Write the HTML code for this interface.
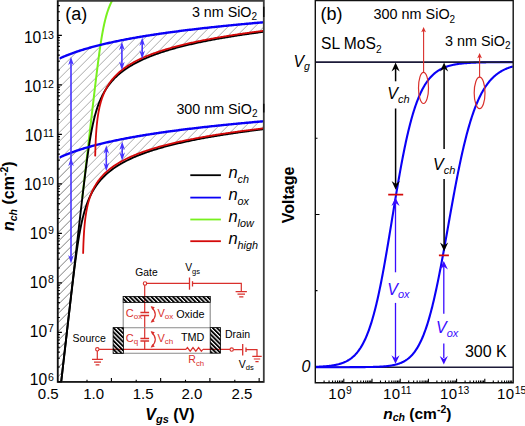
<!DOCTYPE html>
<html><head><meta charset="utf-8"><style>html,body{margin:0;padding:0;background:#fff;}svg{display:block;}</style></head>
<body><svg width="525" height="426" viewBox="0 0 525 426">
<rect width="525" height="426" fill="#fff"/>
<defs>
<pattern id="hat" patternUnits="userSpaceOnUse" width="9" height="9" patternTransform="translate(2.7,0)"><path d="M-1,1 L1,-1 M0,9 L9,0 M8,10 L10,8" stroke="#999" stroke-width="0.85"/></pattern>
<pattern id="el" patternUnits="userSpaceOnUse" width="3.05" height="3.05" patternTransform="rotate(-45)"><rect x="0" y="0" width="1.85" height="3.05" fill="#000"/></pattern>
<clipPath id="ca"><rect x="57.7" y="0.8" width="206.10000000000002" height="381.09999999999997"/></clipPath>
<clipPath id="cb"><rect x="315.3" y="0.8" width="197.9" height="382"/></clipPath>
</defs>
<g clip-path="url(#ca)">
<path d="M57.7,59.33 L58.7,58.85 L59.7,58.39 L60.7,57.93 L61.7,57.48 L62.7,57.05 L63.7,56.62 L64.7,56.2 L65.7,55.79 L66.7,55.39 L67.7,54.99 L68.7,54.6 L69.7,54.22 L70.7,53.84 L71.7,53.47 L72.7,53.11 L73.7,52.75 L74.7,52.4 L75.7,52.06 L76.7,51.72 L77.7,51.38 L78.7,51.05 L79.7,50.73 L80.7,50.41 L81.7,50.09 L82.7,49.78 L83.7,49.48 L84.7,49.18 L85.7,48.88 L86.7,48.59 L87.7,48.3 L88.7,48.01 L89.7,47.73 L90.7,47.45 L91.7,47.17 L92.7,46.9 L93.7,46.64 L94.7,46.37 L95.7,46.11 L96.7,45.85 L97.7,45.6 L98.7,45.34 L99.7,45.09 L100.7,44.85 L101.7,44.6 L102.7,44.36 L103.7,44.13 L104.7,43.89 L105.7,43.66 L106.7,43.43 L107.7,43.2 L108.7,42.97 L109.7,42.75 L110.7,42.53 L111.7,42.31 L112.7,42.09 L113.7,41.88 L114.7,41.67 L115.7,41.46 L116.7,41.25 L117.7,41.04 L118.7,40.84 L119.7,40.64 L120.7,40.43 L121.7,40.24 L122.7,40.04 L123.7,39.84 L124.7,39.65 L125.7,39.46 L126.7,39.27 L127.7,39.08 L128.7,38.89 L129.7,38.71 L130.7,38.53 L131.7,38.34 L132.7,38.16 L133.7,37.99 L134.7,37.81 L135.7,37.63 L136.7,37.46 L137.7,37.29 L138.7,37.11 L139.7,36.94 L140.7,36.77 L141.7,36.61 L142.7,36.44 L143.7,36.28 L144.7,36.11 L145.7,35.95 L146.7,35.79 L147.7,35.63 L148.7,35.47 L149.7,35.31 L150.7,35.15 L151.7,35 L152.7,34.84 L153.7,34.69 L154.7,34.54 L155.7,34.39 L156.7,34.24 L157.7,34.09 L158.7,33.94 L159.7,33.79 L160.7,33.65 L161.7,33.5 L162.7,33.36 L163.7,33.22 L164.7,33.07 L165.7,32.93 L166.7,32.79 L167.7,32.65 L168.7,32.51 L169.7,32.38 L170.7,32.24 L171.7,32.1 L172.7,31.97 L173.7,31.83 L174.7,31.7 L175.7,31.57 L176.7,31.44 L177.7,31.31 L178.7,31.18 L179.7,31.05 L180.7,30.92 L181.7,30.79 L182.7,30.66 L183.7,30.54 L184.7,30.41 L185.7,30.29 L186.7,30.16 L187.7,30.04 L188.7,29.92 L189.7,29.79 L190.7,29.67 L191.7,29.55 L192.7,29.43 L193.7,29.31 L194.7,29.2 L195.7,29.08 L196.7,28.96 L197.7,28.84 L198.7,28.73 L199.7,28.61 L200.7,28.5 L201.7,28.38 L202.7,28.27 L203.7,28.16 L204.7,28.04 L205.7,27.93 L206.7,27.82 L207.7,27.71 L208.7,27.6 L209.7,27.49 L210.7,27.38 L211.7,27.27 L212.7,27.17 L213.7,27.06 L214.7,26.95 L215.7,26.84 L216.7,26.74 L217.7,26.63 L218.7,26.53 L219.7,26.42 L220.7,26.32 L221.7,26.22 L222.7,26.12 L223.7,26.01 L224.7,25.91 L225.7,25.81 L226.7,25.71 L227.7,25.61 L228.7,25.51 L229.7,25.41 L230.7,25.31 L231.7,25.21 L232.7,25.11 L233.7,25.02 L234.7,24.92 L235.7,24.82 L236.7,24.73 L237.7,24.63 L238.7,24.53 L239.7,24.44 L240.7,24.35 L241.7,24.25 L242.7,24.16 L243.7,24.06 L244.7,23.97 L245.7,23.88 L246.7,23.79 L247.7,23.69 L248.7,23.6 L249.7,23.51 L250.7,23.42 L251.7,23.33 L252.7,23.24 L253.7,23.15 L254.7,23.06 L255.7,22.97 L256.7,22.89 L257.7,22.8 L258.7,22.71 L259.7,22.62 L260.7,22.54 L261.7,22.45 L262.7,22.36 L263.7,22.28 L263,31.89 L262,32.02 L261,32.15 L260,32.28 L259,32.42 L258,32.55 L257,32.69 L256,32.82 L255,32.96 L254,33.1 L253,33.24 L252,33.37 L251,33.52 L250,33.66 L249,33.8 L248,33.94 L247,34.09 L246,34.23 L245,34.38 L244,34.53 L243,34.67 L242,34.82 L241,34.97 L240,35.12 L239,35.28 L238,35.43 L237,35.58 L236,35.74 L235,35.9 L234,36.05 L233,36.21 L232,36.37 L231,36.53 L230,36.7 L229,36.86 L228,37.03 L227,37.19 L226,37.36 L225,37.53 L224,37.7 L223,37.87 L222,38.04 L221,38.22 L220,38.39 L219,38.57 L218,38.75 L217,38.93 L216,39.11 L215,39.29 L214,39.47 L213,39.66 L212,39.85 L211,40.04 L210,40.23 L209,40.42 L208,40.61 L207,40.81 L206,41.01 L205,41.21 L204,41.41 L203,41.61 L202,41.82 L201,42.02 L200,42.23 L199,42.44 L198,42.66 L197,42.87 L196,43.09 L195,43.31 L194,43.53 L193,43.75 L192,43.98 L191,44.21 L190,44.44 L189,44.67 L188,44.91 L187,45.14 L186,45.38 L185,45.63 L184,45.87 L183,46.12 L182,46.38 L181,46.63 L180,46.89 L179,47.15 L178,47.41 L177,47.68 L176,47.95 L175,48.22 L174,48.5 L173,48.78 L172,49.06 L171,49.35 L170,49.64 L169,49.94 L168,50.24 L167,50.54 L166,50.85 L165,51.16 L164,51.48 L163,51.8 L162,52.12 L161,52.45 L160,52.79 L159,53.13 L158,53.48 L157,53.83 L156,54.18 L155,54.55 L154,54.91 L153,55.29 L152,55.67 L151,56.06 L150,56.45 L149,56.85 L148,57.26 L147,57.68 L146,58.1 L145,58.53 L144,58.97 L143,59.42 L142,59.88 L141,60.35 L140,60.83 L139,61.32 L138,61.81 L137,62.32 L136,62.84 L135,63.38 L134,63.92 L133,64.48 L132,65.06 L131,65.65 L129.95,66.28 L129.7,66.43 L129.45,66.59 L129.2,66.74 L128.95,66.9 L128.7,67.06 L128.45,67.22 L128.2,67.38 L127.95,67.54 L127.7,67.7 L127.45,67.86 L127.2,68.03 L126.95,68.19 L126.7,68.36 L126.45,68.53 L126.2,68.7 L125.95,68.87 L125.7,69.04 L125.45,69.21 L125.2,69.39 L124.95,69.56 L124.7,69.74 L124.45,69.92 L124.2,70.1 L123.95,70.28 L123.7,70.46 L123.45,70.65 L123.2,70.83 L122.95,71.02 L122.7,71.21 L122.45,71.4 L122.2,71.59 L121.95,71.78 L121.7,71.98 L121.45,72.17 L121.2,72.37 L120.95,72.57 L120.7,72.77 L120.45,72.97 L120.2,73.18 L119.95,73.38 L119.7,73.59 L119.45,73.8 L119.2,74.01 L118.95,74.23 L118.7,74.44 L118.45,74.66 L118.2,74.88 L117.95,75.1 L117.7,75.33 L117.45,75.55 L117.2,75.78 L116.95,76.01 L116.7,76.24 L116.45,76.48 L116.2,76.72 L115.95,76.96 L115.7,77.2 L115.45,77.44 L115.2,77.69 L114.95,77.94 L114.7,78.19 L114.45,78.44 L114.2,78.7 L113.95,78.96 L113.7,79.23 L113.45,79.49 L113.2,79.76 L112.95,80.03 L112.7,80.31 L112.45,80.58 L112.2,80.86 L111.95,81.15 L111.7,81.44 L111.45,81.73 L111.2,82.02 L110.95,82.32 L110.7,82.62 L110.45,82.93 L110.2,83.23 L109.95,83.55 L109.7,83.86 L109.45,84.18 L109.2,84.51 L108.95,84.84 L108.7,85.17 L108.45,85.51 L108.2,85.85 L107.95,86.2 L107.7,86.55 L107.45,86.91 L107.2,87.27 L106.95,87.63 L106.7,88.01 L106.45,88.38 L106.2,88.77 L105.95,89.16 L105.7,89.55 L105.45,89.95 L105.2,90.36 L104.95,90.77 L104.7,91.19 L104.45,91.62 L104.2,92.05 L103.95,92.49 L103.7,92.94 L103.45,93.39 L103.2,93.86 L102.95,94.33 L102.7,94.81 L102.45,95.29 L102.2,95.79 L101.95,96.3 L101.7,96.81 L101.45,97.34 L101.2,97.87 L100.95,98.41 L100.7,98.97 L100.45,99.53 L100.2,100.11 L99.95,100.7 L99.7,101.3 L99.45,101.91 L99.2,102.54 L98.95,103.18 L98.7,103.83 L98.45,104.5 L98.2,105.18 L97.95,105.87 L97.7,106.58 L97.45,107.31 L97.2,108.06 L96.95,108.82 L96.7,109.6 L96.45,110.4 L96.2,111.21 L95.95,112.05 L95.7,112.91 L95.45,113.79 L95.2,114.69 L94.95,115.61 L94.7,116.56 L94.45,117.53 L94.2,118.52 L93.95,119.55 L93.7,120.59 L93.45,121.67 L93.2,122.77 L92.95,123.9 L92.7,125.06 L92.45,126.24 L92.2,127.46 L91.95,128.71 L91.7,129.99 L91.45,131.31 L91.2,132.65 L90.95,134.03 L90.7,135.44 L90.45,136.88 L90.2,138.36 L89.95,139.86 L89.7,141.41 L89.45,142.98 L89.2,144.58 L88.95,146.22 L88.7,147.89 L88.45,149.59 L88.2,151.31 L87.95,153.07 L87.7,154.86 L87.45,156.67 L87.2,158.5 L86.95,160.36 L86.7,162.25 L86.45,164.15 L86.2,166.08 L85.95,168.03 L85.7,169.99 L85.45,171.97 L85.2,173.97 L84.95,175.99 L84.7,178.02 L84.45,180.06 L84.2,182.11 L83.95,184.18 L83.7,186.25 L83.45,188.34 L83.2,190.43 L82.95,192.54 L82.7,194.64 L82.45,196.76 L82.2,198.88 L81.95,201.01 L81.7,203.15 L81.45,205.28 L81.2,207.43 L80.95,209.57 L80.7,211.72 L80.45,213.88 L80.2,216.03 L79.95,218.19 L79.7,220.35 L79.45,222.52 L79.2,224.68 L78.95,226.85 L78.7,229.02 L78.45,231.19 L78.2,233.36 L77.95,235.54 L77.7,237.71 L77.45,239.88 L77.2,242.06 L76.95,244.24 L76.7,246.42 L76.45,248.59 L76.2,250.77 L75.95,252.95 L75.7,255.13 L75.45,257.31 L75.2,259.49 L74.95,261.68 L74.7,263.86 L74.45,266.04 L74.2,268.22 L73.95,270.4 L73.7,272.59 L73.45,274.77 L73.2,276.95 L72.95,279.14 L72.7,281.32 L72.45,283.5 L72.2,285.69 L71.95,287.87 L71.7,290.05 L71.45,292.24 L71.2,294.42 L70.95,296.6 L70.7,298.79 L70.45,300.97 L70.2,303.16 L69.95,305.34 L69.7,307.53 L69.45,309.71 L69.2,311.89 L68.95,314.08 L68.7,316.26 L68.45,318.45 L68.2,320.63 L67.95,322.82 L67.7,325 L67.45,327.19 L67.2,329.37 L66.95,331.56 L66.7,333.74 L66.45,335.92 L66.2,338.11 L65.95,340.29 L65.7,342.48 L65.45,344.66 L65.2,346.85 L64.95,349.03 L64.7,351.22 L64.45,353.4 L64.2,355.59 L63.95,357.77 L63.7,359.96 L63.45,362.14 L63.2,364.32 L62.95,366.51 L62.7,368.69 L62.45,370.88 L62.2,373.06 L61.95,375.25 L61.7,377.43 L61.45,379.62 L61.2,381.8 L60.95,383.99 L60.7,386.17 L60.45,388.36 L60.2,390.54 L59.95,392.73 L59.7,394.91 L55.7,395 Z" fill="url(#hat)"/>
<path d="M57.7,158.33 L58.7,157.85 L59.7,157.39 L60.7,156.93 L61.7,156.48 L62.7,156.05 L63.7,155.62 L64.7,155.2 L65.7,154.79 L66.7,154.39 L67.7,153.99 L68.7,153.6 L69.7,153.22 L70.7,152.84 L71.7,152.47 L72.7,152.11 L73.7,151.75 L74.7,151.4 L75.7,151.06 L76.7,150.72 L77.7,150.38 L78.7,150.05 L79.7,149.73 L80.7,149.41 L81.7,149.09 L82.7,148.78 L83.7,148.48 L84.7,148.18 L85.7,147.88 L86.7,147.59 L87.7,147.3 L88.7,147.01 L89.7,146.73 L90.7,146.45 L91.7,146.17 L92.7,145.9 L93.7,145.64 L94.7,145.37 L95.7,145.11 L96.7,144.85 L97.7,144.6 L98.7,144.34 L99.7,144.09 L100.7,143.85 L101.7,143.6 L102.7,143.36 L103.7,143.13 L104.7,142.89 L105.7,142.66 L106.7,142.43 L107.7,142.2 L108.7,141.97 L109.7,141.75 L110.7,141.53 L111.7,141.31 L112.7,141.09 L113.7,140.88 L114.7,140.67 L115.7,140.46 L116.7,140.25 L117.7,140.04 L118.7,139.84 L119.7,139.64 L120.7,139.43 L121.7,139.24 L122.7,139.04 L123.7,138.84 L124.7,138.65 L125.7,138.46 L126.7,138.27 L127.7,138.08 L128.7,137.89 L129.7,137.71 L130.7,137.53 L131.7,137.34 L132.7,137.16 L133.7,136.99 L134.7,136.81 L135.7,136.63 L136.7,136.46 L137.7,136.29 L138.7,136.11 L139.7,135.94 L140.7,135.77 L141.7,135.61 L142.7,135.44 L143.7,135.28 L144.7,135.11 L145.7,134.95 L146.7,134.79 L147.7,134.63 L148.7,134.47 L149.7,134.31 L150.7,134.15 L151.7,134 L152.7,133.84 L153.7,133.69 L154.7,133.54 L155.7,133.39 L156.7,133.24 L157.7,133.09 L158.7,132.94 L159.7,132.79 L160.7,132.65 L161.7,132.5 L162.7,132.36 L163.7,132.22 L164.7,132.07 L165.7,131.93 L166.7,131.79 L167.7,131.65 L168.7,131.51 L169.7,131.38 L170.7,131.24 L171.7,131.1 L172.7,130.97 L173.7,130.83 L174.7,130.7 L175.7,130.57 L176.7,130.44 L177.7,130.31 L178.7,130.18 L179.7,130.05 L180.7,129.92 L181.7,129.79 L182.7,129.66 L183.7,129.54 L184.7,129.41 L185.7,129.29 L186.7,129.16 L187.7,129.04 L188.7,128.92 L189.7,128.79 L190.7,128.67 L191.7,128.55 L192.7,128.43 L193.7,128.31 L194.7,128.2 L195.7,128.08 L196.7,127.96 L197.7,127.84 L198.7,127.73 L199.7,127.61 L200.7,127.5 L201.7,127.38 L202.7,127.27 L203.7,127.16 L204.7,127.04 L205.7,126.93 L206.7,126.82 L207.7,126.71 L208.7,126.6 L209.7,126.49 L210.7,126.38 L211.7,126.27 L212.7,126.17 L213.7,126.06 L214.7,125.95 L215.7,125.84 L216.7,125.74 L217.7,125.63 L218.7,125.53 L219.7,125.42 L220.7,125.32 L221.7,125.22 L222.7,125.12 L223.7,125.01 L224.7,124.91 L225.7,124.81 L226.7,124.71 L227.7,124.61 L228.7,124.51 L229.7,124.41 L230.7,124.31 L231.7,124.21 L232.7,124.11 L233.7,124.02 L234.7,123.92 L235.7,123.82 L236.7,123.73 L237.7,123.63 L238.7,123.53 L239.7,123.44 L240.7,123.35 L241.7,123.25 L242.7,123.16 L243.7,123.06 L244.7,122.97 L245.7,122.88 L246.7,122.79 L247.7,122.69 L248.7,122.6 L249.7,122.51 L250.7,122.42 L251.7,122.33 L252.7,122.24 L253.7,122.15 L254.7,122.06 L255.7,121.97 L256.7,121.89 L257.7,121.8 L258.7,121.71 L259.7,121.62 L260.7,121.54 L261.7,121.45 L262.7,121.36 L263.7,121.28 L263,129.27 L262,129.39 L261,129.52 L260,129.64 L259,129.77 L258,129.89 L257,130.02 L256,130.15 L255,130.27 L254,130.4 L253,130.53 L252,130.66 L251,130.79 L250,130.92 L249,131.06 L248,131.19 L247,131.33 L246,131.46 L245,131.6 L244,131.73 L243,131.87 L242,132.01 L241,132.15 L240,132.29 L239,132.43 L238,132.57 L237,132.72 L236,132.86 L235,133 L234,133.15 L233,133.3 L232,133.45 L231,133.59 L230,133.74 L229,133.9 L228,134.05 L227,134.2 L226,134.35 L225,134.51 L224,134.67 L223,134.82 L222,134.98 L221,135.14 L220,135.3 L219,135.47 L218,135.63 L217,135.79 L216,135.96 L215,136.13 L214,136.29 L213,136.46 L212,136.64 L211,136.81 L210,136.98 L209,137.16 L208,137.33 L207,137.51 L206,137.69 L205,137.87 L204,138.05 L203,138.24 L202,138.42 L201,138.61 L200,138.8 L199,138.99 L198,139.18 L197,139.37 L196,139.57 L195,139.77 L194,139.97 L193,140.17 L192,140.37 L191,140.57 L190,140.78 L189,140.99 L188,141.2 L187,141.41 L186,141.63 L185,141.84 L184,142.06 L183,142.28 L182,142.5 L181,142.73 L180,142.96 L179,143.19 L178,143.42 L177,143.66 L176,143.89 L175,144.13 L174,144.38 L173,144.62 L172,144.87 L171,145.12 L170,145.37 L169,145.63 L168,145.89 L167,146.15 L166,146.42 L165,146.69 L164,146.96 L163,147.24 L162,147.52 L161,147.8 L160,148.09 L159,148.38 L158,148.67 L157,148.97 L156,149.27 L155,149.58 L154,149.89 L153,150.2 L152,150.52 L151,150.85 L150,151.18 L149,151.51 L148,151.85 L147,152.19 L146,152.54 L145,152.9 L144,153.26 L143,153.63 L142,154 L141,154.38 L140,154.76 L139,155.15 L138,155.55 L137,155.96 L136,156.37 L135,156.8 L134,157.23 L133,157.66 L132,158.11 L131,158.57 L129.95,159.05 L129.7,159.17 L129.45,159.29 L129.2,159.41 L128.95,159.53 L128.7,159.65 L128.45,159.77 L128.2,159.89 L127.95,160.01 L127.7,160.14 L127.45,160.26 L127.2,160.39 L126.95,160.51 L126.7,160.64 L126.45,160.76 L126.2,160.89 L125.95,161.02 L125.7,161.15 L125.45,161.28 L125.2,161.41 L124.95,161.54 L124.7,161.67 L124.45,161.8 L124.2,161.93 L123.95,162.07 L123.7,162.2 L123.45,162.34 L123.2,162.47 L122.95,162.61 L122.7,162.75 L122.45,162.89 L122.2,163.02 L121.95,163.17 L121.7,163.31 L121.45,163.45 L121.2,163.59 L120.95,163.74 L120.7,163.88 L120.45,164.03 L120.2,164.17 L119.95,164.32 L119.7,164.47 L119.45,164.62 L119.2,164.77 L118.95,164.92 L118.7,165.07 L118.45,165.22 L118.2,165.38 L117.95,165.53 L117.7,165.69 L117.45,165.85 L117.2,166.01 L116.95,166.17 L116.7,166.33 L116.45,166.49 L116.2,166.65 L115.95,166.82 L115.7,166.98 L115.45,167.15 L115.2,167.32 L114.95,167.49 L114.7,167.66 L114.45,167.83 L114.2,168 L113.95,168.17 L113.7,168.35 L113.45,168.53 L113.2,168.7 L112.95,168.88 L112.7,169.06 L112.45,169.25 L112.2,169.43 L111.95,169.62 L111.7,169.8 L111.45,169.99 L111.2,170.18 L110.95,170.37 L110.7,170.56 L110.45,170.76 L110.2,170.95 L109.95,171.15 L109.7,171.35 L109.45,171.55 L109.2,171.75 L108.95,171.96 L108.7,172.16 L108.45,172.37 L108.2,172.58 L107.95,172.79 L107.7,173.01 L107.45,173.22 L107.2,173.44 L106.95,173.66 L106.7,173.88 L106.45,174.1 L106.2,174.33 L105.95,174.56 L105.7,174.79 L105.45,175.02 L105.2,175.25 L104.95,175.49 L104.7,175.73 L104.45,175.97 L104.2,176.21 L103.95,176.46 L103.7,176.71 L103.45,176.96 L103.2,177.21 L102.95,177.47 L102.7,177.73 L102.45,177.99 L102.2,178.26 L101.95,178.52 L101.7,178.8 L101.45,179.07 L101.2,179.35 L100.95,179.63 L100.7,179.91 L100.45,180.2 L100.2,180.49 L99.95,180.78 L99.7,181.08 L99.45,181.38 L99.2,181.68 L98.95,181.99 L98.7,182.3 L98.45,182.62 L98.2,182.94 L97.95,183.26 L97.7,183.59 L97.45,183.92 L97.2,184.26 L96.95,184.6 L96.7,184.94 L96.45,185.3 L96.2,185.65 L95.95,186.01 L95.7,186.38 L95.45,186.75 L95.2,187.12 L94.95,187.51 L94.7,187.89 L94.45,188.29 L94.2,188.69 L93.95,189.09 L93.7,189.5 L93.45,189.92 L93.2,190.35 L92.95,190.78 L92.7,191.22 L92.45,191.66 L92.2,192.12 L91.95,192.58 L91.7,193.05 L91.45,193.52 L91.2,194.01 L90.95,194.5 L90.7,195.01 L90.45,195.52 L90.2,196.04 L89.95,196.57 L89.7,197.11 L89.45,197.67 L89.2,198.23 L88.95,198.8 L88.7,199.39 L88.45,199.99 L88.2,200.6 L87.95,201.22 L87.7,201.85 L87.45,202.5 L87.2,203.17 L86.95,203.84 L86.7,204.54 L86.45,205.24 L86.2,205.97 L85.95,206.71 L85.7,207.47 L85.45,208.24 L85.2,209.04 L84.95,209.85 L84.7,210.68 L84.45,211.53 L84.2,212.41 L83.95,213.3 L83.7,214.22 L83.45,215.16 L83.2,216.13 L82.95,217.12 L82.7,218.13 L82.45,219.17 L82.2,220.24 L81.95,221.33 L81.7,222.46 L81.45,223.61 L81.2,224.79 L80.95,226 L80.7,227.24 L80.45,228.52 L80.2,229.82 L79.95,231.16 L79.7,232.53 L79.45,233.93 L79.2,235.37 L78.95,236.83 L78.7,238.33 L78.45,239.87 L78.2,241.43 L77.95,243.03 L77.7,244.66 L77.45,246.32 L77.2,248.01 L76.95,249.73 L76.7,251.48 L76.45,253.26 L76.2,255.06 L75.95,256.89 L75.7,258.75 L75.45,260.63 L75.2,262.53 L74.95,264.45 L74.7,266.39 L74.45,268.35 L74.2,270.33 L73.95,272.33 L73.7,274.34 L73.45,276.36 L73.2,278.4 L72.95,280.45 L72.7,282.52 L72.45,284.59 L72.2,286.67 L71.95,288.77 L71.7,290.87 L71.45,292.97 L71.2,295.09 L70.95,297.21 L70.7,299.34 L70.45,301.47 L70.2,303.61 L69.95,305.75 L69.7,307.89 L69.45,310.04 L69.2,312.2 L68.95,314.35 L68.7,316.51 L68.45,318.67 L68.2,320.83 L67.95,323 L67.7,325.17 L67.45,327.34 L67.2,329.51 L66.95,331.68 L66.7,333.85 L66.45,336.02 L66.2,338.2 L65.95,340.37 L65.7,342.55 L65.45,344.73 L65.2,346.91 L64.95,349.09 L64.7,351.27 L64.45,353.45 L64.2,355.63 L63.95,357.81 L63.7,359.99 L63.45,362.17 L63.2,364.35 L62.95,366.53 L62.7,368.72 L62.45,370.9 L62.2,373.08 L61.95,375.26 L61.7,377.45 L61.45,379.63 L61.2,381.81 L60.95,384 L60.7,386.18 L60.45,388.37 L60.2,390.55 L59.95,392.73 L59.7,394.92 L55.7,395 Z" fill="url(#hat)"/>
<path d="M82.25,197.85 L82.5,195.67 L82.75,193.49 L83,191.3 L83.25,189.12 L83.5,186.93 L83.75,184.75 L84,182.57 L84.25,180.38 L84.5,178.2 L84.75,176.02 L85,173.83 L85.25,171.65 L85.5,169.47 L85.75,167.28 L86,165.1 L86.25,162.92 L86.5,160.74 L86.75,158.56 L87,156.37 L87.25,154.19 L87.5,152.01 L87.75,149.83 L88,147.65 L88.25,145.47 L88.5,143.29 L88.75,141.12 L89,138.94 L89.25,136.76 L89.5,134.59 L89.75,132.41 L90,130.24 L90.25,128.07 L90.5,125.9 L90.75,123.73 L91,121.56 L91.25,119.39 L91.5,117.23 L91.75,115.06 L92,112.9 L92.25,110.75 L92.5,108.59 L92.75,106.44 L93,104.29 L93.25,102.15 L93.5,100.01 L93.75,97.88 L94,95.74 L94.25,93.62 L94.5,91.5 L94.75,89.39 L95,87.29 L95.25,85.19 L95.5,83.1 L95.75,81.02 L96,78.96 L96.25,76.9 L96.5,74.86 L96.75,72.83 L97,70.81 L97.25,68.81 L97.5,66.82 L97.75,64.86 L98,62.91 L98.25,60.99 L98.5,59.08 L98.75,57.2 L99,55.34 L99.25,53.51 L99.5,51.71 L99.75,49.94 L100,48.19 L100.25,46.48 L100.5,44.8 L100.75,43.15 L101,41.54 L101.25,39.96 L101.5,38.42 L101.75,36.91 L102,35.44 L102.25,34.01 L102.5,32.62 L102.75,31.26 L103,29.94 L103.25,28.65 L103.5,27.4 L103.75,26.19 L104,25.01 L104.25,23.87 L104.5,22.76 L104.75,21.69 L105,20.64 L105.25,19.63 L105.5,18.65 L105.75,17.69 L106,16.77 L106.25,15.87 L106.5,15 L106.75,14.15 L107,13.33 L107.25,12.53 L107.5,11.76 L107.75,11 L108,10.27 L108.25,9.56 L108.5,8.86 L108.75,8.19 L109,7.53 L109.25,6.89 L109.5,6.27 L109.75,5.66 L110,5.07 L110.25,4.49 L110.5,3.92 L110.75,3.37 L111,2.83 L111.25,2.3 L111.5,1.79 L111.75,1.28 L112,0.79 L112.25,0.31 L112.5,-0.16 L112.75,-0.63 L113,-1.08 L113.25,-1.52 L113.5,-1.96 L113.75,-2.39 L114,-2.81 L114.25,-3.22 L114.5,-3.62 L114.75,-4.02 L115,-4.41" fill="none" stroke="#78f01e" stroke-width="2"/>
<path d="M59.7,394.91 L59.95,392.73 L60.2,390.54 L60.45,388.36 L60.7,386.17 L60.95,383.99 L61.2,381.8 L61.45,379.62 L61.7,377.43 L61.95,375.25 L62.2,373.06 L62.45,370.88 L62.7,368.69 L62.95,366.51 L63.2,364.32 L63.45,362.14 L63.7,359.96 L63.95,357.77 L64.2,355.59 L64.45,353.4 L64.7,351.22 L64.95,349.03 L65.2,346.85 L65.45,344.66 L65.7,342.48 L65.95,340.29 L66.2,338.11 L66.45,335.92 L66.7,333.74 L66.95,331.56 L67.2,329.37 L67.45,327.19 L67.7,325 L67.95,322.82 L68.2,320.63 L68.45,318.45 L68.7,316.26 L68.95,314.08 L69.2,311.89 L69.45,309.71 L69.7,307.53 L69.95,305.34 L70.2,303.16 L70.45,300.97 L70.7,298.79 L70.95,296.6 L71.2,294.42 L71.45,292.24 L71.7,290.05 L71.95,287.87 L72.2,285.69 L72.45,283.5 L72.7,281.32 L72.95,279.14 L73.2,276.95 L73.45,274.77 L73.7,272.59 L73.95,270.4 L74.2,268.22 L74.45,266.04 L74.7,263.86 L74.95,261.68 L75.2,259.49 L75.45,257.31 L75.7,255.13 L75.95,252.95 L76.2,250.77 L76.45,248.59 L76.7,246.42 L76.95,244.24 L77.2,242.06 L77.45,239.88 L77.7,237.71 L77.95,235.54 L78.2,233.36 L78.45,231.19 L78.7,229.02 L78.95,226.85 L79.2,224.68 L79.45,222.52 L79.7,220.35 L79.95,218.19 L80.2,216.03 L80.45,213.88 L80.7,211.72 L80.95,209.57 L81.2,207.43 L81.45,205.28 L81.7,203.15 L81.95,201.01 L82.2,198.88 L82.45,196.76 L82.7,194.64 L82.95,192.54 L83.2,190.43 L83.45,188.34 L83.7,186.25 L83.95,184.18 L84.2,182.11 L84.45,180.06 L84.7,178.02 L84.95,175.99 L85.2,173.97 L85.45,171.97 L85.7,169.99 L85.95,168.03 L86.2,166.08 L86.45,164.15 L86.7,162.25 L86.95,160.36 L87.2,158.5 L87.45,156.67 L87.7,154.86 L87.95,153.07 L88.2,151.31 L88.45,149.59 L88.7,147.89 L88.95,146.22 L89.2,144.58 L89.45,142.98 L89.7,141.41 L89.95,139.86 L90.2,138.36 L90.45,136.88 L90.7,135.44 L90.95,134.03 L91.2,132.65 L91.45,131.31 L91.7,129.99 L91.95,128.71 L92.2,127.46 L92.45,126.24 L92.7,125.06 L92.95,123.9 L93.2,122.77 L93.45,121.67 L93.7,120.59 L93.95,119.55 L94.2,118.52 L94.45,117.53 L94.7,116.56 L94.95,115.61 L95.2,114.69 L95.45,113.79 L95.7,112.91 L95.95,112.05 L96.2,111.21 L96.45,110.4 L96.7,109.6 L96.95,108.82 L97.2,108.06 L97.45,107.31 L97.7,106.58 L97.95,105.87 L98.2,105.18 L98.45,104.5 L98.7,103.83 L98.95,103.18 L99.2,102.54 L99.45,101.91 L99.7,101.3 L99.95,100.7 L100.2,100.11 L100.45,99.53 L100.7,98.97 L100.95,98.41 L101.2,97.87 L101.45,97.34 L101.7,96.81 L101.95,96.3 L102.2,95.79 L102.45,95.29 L102.7,94.81 L102.95,94.33 L103.2,93.86 L103.45,93.39 L103.7,92.94 L103.95,92.49 L104.2,92.05 L104.45,91.62 L104.7,91.19 L104.95,90.77 L105.2,90.36 L105.45,89.95 L105.7,89.55 L105.95,89.16 L106.2,88.77 L106.45,88.38 L106.7,88.01 L106.95,87.63 L107.2,87.27 L107.45,86.91 L107.7,86.55 L107.95,86.2 L108.2,85.85 L108.45,85.51 L108.7,85.17 L108.95,84.84 L109.2,84.51 L109.45,84.18 L109.7,83.86 L109.95,83.55 L110.2,83.23 L110.45,82.93 L110.7,82.62 L110.95,82.32 L111.2,82.02 L111.45,81.73 L111.7,81.44 L111.95,81.15 L112.2,80.86 L112.45,80.58 L112.7,80.31 L112.95,80.03 L113.2,79.76 L113.45,79.49 L113.7,79.23 L113.95,78.96 L114.2,78.7 L114.45,78.44 L114.7,78.19 L114.95,77.94 L115.2,77.69 L115.45,77.44 L115.7,77.2 L115.95,76.96 L116.2,76.72 L116.45,76.48 L116.7,76.24 L116.95,76.01 L117.2,75.78 L117.45,75.55 L117.7,75.33 L117.95,75.1 L118.2,74.88 L118.45,74.66 L118.7,74.44 L118.95,74.23 L119.2,74.01 L119.45,73.8 L119.7,73.59 L119.95,73.38 L120.2,73.18 L120.45,72.97 L120.7,72.77 L120.95,72.57 L121.2,72.37 L121.45,72.17 L121.7,71.98 L121.95,71.78 L122.2,71.59 L122.45,71.4 L122.7,71.21 L122.95,71.02 L123.2,70.83 L123.45,70.65 L123.7,70.46 L123.95,70.28 L124.2,70.1 L124.45,69.92 L124.7,69.74 L124.95,69.56 L125.2,69.39 L125.45,69.21 L125.7,69.04 L125.95,68.87 L126.2,68.7 L126.45,68.53 L126.7,68.36 L126.95,68.19 L127.2,68.03 L127.45,67.86 L127.7,67.7 L127.95,67.54 L128.2,67.38 L128.45,67.22 L128.7,67.06 L128.95,66.9 L129.2,66.74 L129.45,66.59 L129.7,66.43 L129.95,66.28 L131,65.65 L132,65.06 L133,64.48 L134,63.92 L135,63.38 L136,62.84 L137,62.32 L138,61.81 L139,61.32 L140,60.83 L141,60.35 L142,59.88 L143,59.42 L144,58.97 L145,58.53 L146,58.1 L147,57.68 L148,57.26 L149,56.85 L150,56.45 L151,56.06 L152,55.67 L153,55.29 L154,54.91 L155,54.55 L156,54.18 L157,53.83 L158,53.48 L159,53.13 L160,52.79 L161,52.45 L162,52.12 L163,51.8 L164,51.48 L165,51.16 L166,50.85 L167,50.54 L168,50.24 L169,49.94 L170,49.64 L171,49.35 L172,49.06 L173,48.78 L174,48.5 L175,48.22 L176,47.95 L177,47.68 L178,47.41 L179,47.15 L180,46.89 L181,46.63 L182,46.38 L183,46.12 L184,45.87 L185,45.63 L186,45.38 L187,45.14 L188,44.91 L189,44.67 L190,44.44 L191,44.21 L192,43.98 L193,43.75 L194,43.53 L195,43.31 L196,43.09 L197,42.87 L198,42.66 L199,42.44 L200,42.23 L201,42.02 L202,41.82 L203,41.61 L204,41.41 L205,41.21 L206,41.01 L207,40.81 L208,40.61 L209,40.42 L210,40.23 L211,40.04 L212,39.85 L213,39.66 L214,39.47 L215,39.29 L216,39.11 L217,38.93 L218,38.75 L219,38.57 L220,38.39 L221,38.22 L222,38.04 L223,37.87 L224,37.7 L225,37.53 L226,37.36 L227,37.19 L228,37.03 L229,36.86 L230,36.7 L231,36.53 L232,36.37 L233,36.21 L234,36.05 L235,35.9 L236,35.74 L237,35.58 L238,35.43 L239,35.28 L240,35.12 L241,34.97 L242,34.82 L243,34.67 L244,34.53 L245,34.38 L246,34.23 L247,34.09 L248,33.94 L249,33.8 L250,33.66 L251,33.52 L252,33.37 L253,33.24 L254,33.1 L255,32.96 L256,32.82 L257,32.69 L258,32.55 L259,32.42 L260,32.28 L261,32.15 L262,32.02 L263,31.89" fill="none" stroke="#000" stroke-width="1.9"/>
<path d="M59.7,394.92 L59.95,392.73 L60.2,390.55 L60.45,388.37 L60.7,386.18 L60.95,384 L61.2,381.81 L61.45,379.63 L61.7,377.45 L61.95,375.26 L62.2,373.08 L62.45,370.9 L62.7,368.72 L62.95,366.53 L63.2,364.35 L63.45,362.17 L63.7,359.99 L63.95,357.81 L64.2,355.63 L64.45,353.45 L64.7,351.27 L64.95,349.09 L65.2,346.91 L65.45,344.73 L65.7,342.55 L65.95,340.37 L66.2,338.2 L66.45,336.02 L66.7,333.85 L66.95,331.68 L67.2,329.51 L67.45,327.34 L67.7,325.17 L67.95,323 L68.2,320.83 L68.45,318.67 L68.7,316.51 L68.95,314.35 L69.2,312.2 L69.45,310.04 L69.7,307.89 L69.95,305.75 L70.2,303.61 L70.45,301.47 L70.7,299.34 L70.95,297.21 L71.2,295.09 L71.45,292.97 L71.7,290.87 L71.95,288.77 L72.2,286.67 L72.45,284.59 L72.7,282.52 L72.95,280.45 L73.2,278.4 L73.45,276.36 L73.7,274.34 L73.95,272.33 L74.2,270.33 L74.45,268.35 L74.7,266.39 L74.95,264.45 L75.2,262.53 L75.45,260.63 L75.7,258.75 L75.95,256.89 L76.2,255.06 L76.45,253.26 L76.7,251.48 L76.95,249.73 L77.2,248.01 L77.45,246.32 L77.7,244.66 L77.95,243.03 L78.2,241.43 L78.45,239.87 L78.7,238.33 L78.95,236.83 L79.2,235.37 L79.45,233.93 L79.7,232.53 L79.95,231.16 L80.2,229.82 L80.45,228.52 L80.7,227.24 L80.95,226 L81.2,224.79 L81.45,223.61 L81.7,222.46 L81.95,221.33 L82.2,220.24 L82.45,219.17 L82.7,218.13 L82.95,217.12 L83.2,216.13 L83.45,215.16 L83.7,214.22 L83.95,213.3 L84.2,212.41 L84.45,211.53 L84.7,210.68 L84.95,209.85 L85.2,209.04 L85.45,208.24 L85.7,207.47 L85.95,206.71 L86.2,205.97 L86.45,205.24 L86.7,204.54 L86.95,203.84 L87.2,203.17 L87.45,202.5 L87.7,201.85 L87.95,201.22 L88.2,200.6 L88.45,199.99 L88.7,199.39 L88.95,198.8 L89.2,198.23 L89.45,197.67 L89.7,197.11 L89.95,196.57 L90.2,196.04 L90.45,195.52 L90.7,195.01 L90.95,194.5 L91.2,194.01 L91.45,193.52 L91.7,193.05 L91.95,192.58 L92.2,192.12 L92.45,191.66 L92.7,191.22 L92.95,190.78 L93.2,190.35 L93.45,189.92 L93.7,189.5 L93.95,189.09 L94.2,188.69 L94.45,188.29 L94.7,187.89 L94.95,187.51 L95.2,187.12 L95.45,186.75 L95.7,186.38 L95.95,186.01 L96.2,185.65 L96.45,185.3 L96.7,184.94 L96.95,184.6 L97.2,184.26 L97.45,183.92 L97.7,183.59 L97.95,183.26 L98.2,182.94 L98.45,182.62 L98.7,182.3 L98.95,181.99 L99.2,181.68 L99.45,181.38 L99.7,181.08 L99.95,180.78 L100.2,180.49 L100.45,180.2 L100.7,179.91 L100.95,179.63 L101.2,179.35 L101.45,179.07 L101.7,178.8 L101.95,178.52 L102.2,178.26 L102.45,177.99 L102.7,177.73 L102.95,177.47 L103.2,177.21 L103.45,176.96 L103.7,176.71 L103.95,176.46 L104.2,176.21 L104.45,175.97 L104.7,175.73 L104.95,175.49 L105.2,175.25 L105.45,175.02 L105.7,174.79 L105.95,174.56 L106.2,174.33 L106.45,174.1 L106.7,173.88 L106.95,173.66 L107.2,173.44 L107.45,173.22 L107.7,173.01 L107.95,172.79 L108.2,172.58 L108.45,172.37 L108.7,172.16 L108.95,171.96 L109.2,171.75 L109.45,171.55 L109.7,171.35 L109.95,171.15 L110.2,170.95 L110.45,170.76 L110.7,170.56 L110.95,170.37 L111.2,170.18 L111.45,169.99 L111.7,169.8 L111.95,169.62 L112.2,169.43 L112.45,169.25 L112.7,169.06 L112.95,168.88 L113.2,168.7 L113.45,168.53 L113.7,168.35 L113.95,168.17 L114.2,168 L114.45,167.83 L114.7,167.66 L114.95,167.49 L115.2,167.32 L115.45,167.15 L115.7,166.98 L115.95,166.82 L116.2,166.65 L116.45,166.49 L116.7,166.33 L116.95,166.17 L117.2,166.01 L117.45,165.85 L117.7,165.69 L117.95,165.53 L118.2,165.38 L118.45,165.22 L118.7,165.07 L118.95,164.92 L119.2,164.77 L119.45,164.62 L119.7,164.47 L119.95,164.32 L120.2,164.17 L120.45,164.03 L120.7,163.88 L120.95,163.74 L121.2,163.59 L121.45,163.45 L121.7,163.31 L121.95,163.17 L122.2,163.02 L122.45,162.89 L122.7,162.75 L122.95,162.61 L123.2,162.47 L123.45,162.34 L123.7,162.2 L123.95,162.07 L124.2,161.93 L124.45,161.8 L124.7,161.67 L124.95,161.54 L125.2,161.41 L125.45,161.28 L125.7,161.15 L125.95,161.02 L126.2,160.89 L126.45,160.76 L126.7,160.64 L126.95,160.51 L127.2,160.39 L127.45,160.26 L127.7,160.14 L127.95,160.01 L128.2,159.89 L128.45,159.77 L128.7,159.65 L128.95,159.53 L129.2,159.41 L129.45,159.29 L129.7,159.17 L129.95,159.05 L131,158.57 L132,158.11 L133,157.66 L134,157.23 L135,156.8 L136,156.37 L137,155.96 L138,155.55 L139,155.15 L140,154.76 L141,154.38 L142,154 L143,153.63 L144,153.26 L145,152.9 L146,152.54 L147,152.19 L148,151.85 L149,151.51 L150,151.18 L151,150.85 L152,150.52 L153,150.2 L154,149.89 L155,149.58 L156,149.27 L157,148.97 L158,148.67 L159,148.38 L160,148.09 L161,147.8 L162,147.52 L163,147.24 L164,146.96 L165,146.69 L166,146.42 L167,146.15 L168,145.89 L169,145.63 L170,145.37 L171,145.12 L172,144.87 L173,144.62 L174,144.38 L175,144.13 L176,143.89 L177,143.66 L178,143.42 L179,143.19 L180,142.96 L181,142.73 L182,142.5 L183,142.28 L184,142.06 L185,141.84 L186,141.63 L187,141.41 L188,141.2 L189,140.99 L190,140.78 L191,140.57 L192,140.37 L193,140.17 L194,139.97 L195,139.77 L196,139.57 L197,139.37 L198,139.18 L199,138.99 L200,138.8 L201,138.61 L202,138.42 L203,138.24 L204,138.05 L205,137.87 L206,137.69 L207,137.51 L208,137.33 L209,137.16 L210,136.98 L211,136.81 L212,136.64 L213,136.46 L214,136.29 L215,136.13 L216,135.96 L217,135.79 L218,135.63 L219,135.47 L220,135.3 L221,135.14 L222,134.98 L223,134.82 L224,134.67 L225,134.51 L226,134.35 L227,134.2 L228,134.05 L229,133.9 L230,133.74 L231,133.59 L232,133.45 L233,133.3 L234,133.15 L235,133 L236,132.86 L237,132.72 L238,132.57 L239,132.43 L240,132.29 L241,132.15 L242,132.01 L243,131.87 L244,131.73 L245,131.6 L246,131.46 L247,131.33 L248,131.19 L249,131.06 L250,130.92 L251,130.79 L252,130.66 L253,130.53 L254,130.4 L255,130.27 L256,130.15 L257,130.02 L258,129.89 L259,129.77 L260,129.64 L261,129.52 L262,129.39 L263,129.27" fill="none" stroke="#000" stroke-width="1.9"/>
<path d="M60.6,57.98 L61.6,57.53 L62.6,57.09 L63.6,56.66 L64.6,56.24 L65.6,55.83 L66.6,55.43 L67.6,55.03 L68.6,54.64 L69.6,54.26 L70.6,53.88 L71.6,53.51 L72.6,53.15 L73.6,52.79 L74.6,52.44 L75.6,52.09 L76.6,51.75 L77.6,51.42 L78.6,51.09 L79.6,50.76 L80.6,50.44 L81.6,50.13 L82.6,49.81 L83.6,49.51 L84.6,49.21 L85.6,48.91 L86.6,48.61 L87.6,48.32 L88.6,48.04 L89.6,47.76 L90.6,47.48 L91.6,47.2 L92.6,46.93 L93.6,46.66 L94.6,46.4 L95.6,46.14 L96.6,45.88 L97.6,45.62 L98.6,45.37 L99.6,45.12 L100.6,44.87 L101.6,44.63 L102.6,44.39 L103.6,44.15 L104.6,43.91 L105.6,43.68 L106.6,43.45 L107.6,43.22 L108.6,43 L109.6,42.77 L110.6,42.55 L111.6,42.33 L112.6,42.11 L113.6,41.9 L114.6,41.69 L115.6,41.48 L116.6,41.27 L117.6,41.06 L118.6,40.86 L119.6,40.66 L120.6,40.45 L121.6,40.26 L122.6,40.06 L123.6,39.86 L124.6,39.67 L125.6,39.48 L126.6,39.29 L127.6,39.1 L128.6,38.91 L129.6,38.73 L130.6,38.54 L131.6,38.36 L132.6,38.18 L133.6,38 L134.6,37.83 L135.6,37.65 L136.6,37.48 L137.6,37.3 L138.6,37.13 L139.6,36.96 L140.6,36.79 L141.6,36.62 L142.6,36.46 L143.6,36.29 L144.6,36.13 L145.6,35.97 L146.6,35.8 L147.6,35.64 L148.6,35.48 L149.6,35.33 L150.6,35.17 L151.6,35.01 L152.6,34.86 L153.6,34.71 L154.6,34.55 L155.6,34.4 L156.6,34.25 L157.6,34.1 L158.6,33.96 L159.6,33.81 L160.6,33.66 L161.6,33.52 L162.6,33.37 L163.6,33.23 L164.6,33.09 L165.6,32.95 L166.6,32.81 L167.6,32.67 L168.6,32.53 L169.6,32.39 L170.6,32.25 L171.6,32.12 L172.6,31.98 L173.6,31.85 L174.6,31.71 L175.6,31.58 L176.6,31.45 L177.6,31.32 L178.6,31.19 L179.6,31.06 L180.6,30.93 L181.6,30.8 L182.6,30.68 L183.6,30.55 L184.6,30.42 L185.6,30.3 L186.6,30.18 L187.6,30.05 L188.6,29.93 L189.6,29.81 L190.6,29.69 L191.6,29.57 L192.6,29.45 L193.6,29.33 L194.6,29.21 L195.6,29.09 L196.6,28.97 L197.6,28.85 L198.6,28.74 L199.6,28.62 L200.6,28.51 L201.6,28.39 L202.6,28.28 L203.6,28.17 L204.6,28.06 L205.6,27.94 L206.6,27.83 L207.6,27.72 L208.6,27.61 L209.6,27.5 L210.6,27.39 L211.6,27.28 L212.6,27.18 L213.6,27.07 L214.6,26.96 L215.6,26.86 L216.6,26.75 L217.6,26.64 L218.6,26.54 L219.6,26.44 L220.6,26.33 L221.6,26.23 L222.6,26.13 L223.6,26.02 L224.6,25.92 L225.6,25.82 L226.6,25.72 L227.6,25.62 L228.6,25.52 L229.6,25.42 L230.6,25.32 L231.6,25.22 L232.6,25.12 L233.6,25.03 L234.6,24.93 L235.6,24.83 L236.6,24.74 L237.6,24.64 L238.6,24.54 L239.6,24.45 L240.6,24.35 L241.6,24.26 L242.6,24.17 L243.6,24.07 L244.6,23.98 L245.6,23.89 L246.6,23.8 L247.6,23.7 L248.6,23.61 L249.6,23.52 L250.6,23.43 L251.6,23.34 L252.6,23.25 L253.6,23.16 L254.6,23.07 L255.6,22.98 L256.6,22.89 L257.6,22.81 L258.6,22.72 L259.6,22.63 L260.6,22.54 L261.6,22.46 L262.6,22.37 L263.6,22.29" fill="none" stroke="#0a00f6" stroke-width="2.4" stroke-linecap="round"/>
<path d="M60.6,156.98 L61.6,156.53 L62.6,156.09 L63.6,155.66 L64.6,155.24 L65.6,154.83 L66.6,154.43 L67.6,154.03 L68.6,153.64 L69.6,153.26 L70.6,152.88 L71.6,152.51 L72.6,152.15 L73.6,151.79 L74.6,151.44 L75.6,151.09 L76.6,150.75 L77.6,150.42 L78.6,150.09 L79.6,149.76 L80.6,149.44 L81.6,149.13 L82.6,148.81 L83.6,148.51 L84.6,148.21 L85.6,147.91 L86.6,147.61 L87.6,147.32 L88.6,147.04 L89.6,146.76 L90.6,146.48 L91.6,146.2 L92.6,145.93 L93.6,145.66 L94.6,145.4 L95.6,145.14 L96.6,144.88 L97.6,144.62 L98.6,144.37 L99.6,144.12 L100.6,143.87 L101.6,143.63 L102.6,143.39 L103.6,143.15 L104.6,142.91 L105.6,142.68 L106.6,142.45 L107.6,142.22 L108.6,142 L109.6,141.77 L110.6,141.55 L111.6,141.33 L112.6,141.11 L113.6,140.9 L114.6,140.69 L115.6,140.48 L116.6,140.27 L117.6,140.06 L118.6,139.86 L119.6,139.66 L120.6,139.45 L121.6,139.26 L122.6,139.06 L123.6,138.86 L124.6,138.67 L125.6,138.48 L126.6,138.29 L127.6,138.1 L128.6,137.91 L129.6,137.73 L130.6,137.54 L131.6,137.36 L132.6,137.18 L133.6,137 L134.6,136.83 L135.6,136.65 L136.6,136.48 L137.6,136.3 L138.6,136.13 L139.6,135.96 L140.6,135.79 L141.6,135.62 L142.6,135.46 L143.6,135.29 L144.6,135.13 L145.6,134.97 L146.6,134.8 L147.6,134.64 L148.6,134.48 L149.6,134.33 L150.6,134.17 L151.6,134.01 L152.6,133.86 L153.6,133.71 L154.6,133.55 L155.6,133.4 L156.6,133.25 L157.6,133.1 L158.6,132.96 L159.6,132.81 L160.6,132.66 L161.6,132.52 L162.6,132.37 L163.6,132.23 L164.6,132.09 L165.6,131.95 L166.6,131.81 L167.6,131.67 L168.6,131.53 L169.6,131.39 L170.6,131.25 L171.6,131.12 L172.6,130.98 L173.6,130.85 L174.6,130.71 L175.6,130.58 L176.6,130.45 L177.6,130.32 L178.6,130.19 L179.6,130.06 L180.6,129.93 L181.6,129.8 L182.6,129.68 L183.6,129.55 L184.6,129.42 L185.6,129.3 L186.6,129.18 L187.6,129.05 L188.6,128.93 L189.6,128.81 L190.6,128.69 L191.6,128.57 L192.6,128.45 L193.6,128.33 L194.6,128.21 L195.6,128.09 L196.6,127.97 L197.6,127.85 L198.6,127.74 L199.6,127.62 L200.6,127.51 L201.6,127.39 L202.6,127.28 L203.6,127.17 L204.6,127.06 L205.6,126.94 L206.6,126.83 L207.6,126.72 L208.6,126.61 L209.6,126.5 L210.6,126.39 L211.6,126.28 L212.6,126.18 L213.6,126.07 L214.6,125.96 L215.6,125.86 L216.6,125.75 L217.6,125.64 L218.6,125.54 L219.6,125.44 L220.6,125.33 L221.6,125.23 L222.6,125.13 L223.6,125.02 L224.6,124.92 L225.6,124.82 L226.6,124.72 L227.6,124.62 L228.6,124.52 L229.6,124.42 L230.6,124.32 L231.6,124.22 L232.6,124.12 L233.6,124.03 L234.6,123.93 L235.6,123.83 L236.6,123.74 L237.6,123.64 L238.6,123.54 L239.6,123.45 L240.6,123.35 L241.6,123.26 L242.6,123.17 L243.6,123.07 L244.6,122.98 L245.6,122.89 L246.6,122.8 L247.6,122.7 L248.6,122.61 L249.6,122.52 L250.6,122.43 L251.6,122.34 L252.6,122.25 L253.6,122.16 L254.6,122.07 L255.6,121.98 L256.6,121.89 L257.6,121.81 L258.6,121.72 L259.6,121.63 L260.6,121.54 L261.6,121.46 L262.6,121.37 L263.6,121.29" fill="none" stroke="#0a00f6" stroke-width="2.4" stroke-linecap="round"/>
<path d="M95.19,156.37 L95.29,152.38 L95.39,149.02 L95.49,146.11 L95.59,143.54 L95.69,141.26 L95.79,139.19 L95.89,137.3 L95.99,135.57 L96.09,133.96 L96.19,132.47 L96.29,131.07 L96.39,129.76 L96.49,128.52 L96.59,127.35 L96.69,126.25 L96.79,125.19 L96.89,124.19 L96.99,123.23 L97.09,122.31 L97.19,121.43 L97.29,120.58 L97.39,119.77 L97.49,118.98 L97.59,118.22 L97.69,117.49 L97.79,116.79 L97.89,116.1 L97.99,115.44 L98.09,114.79 L98.19,114.17 L98.29,113.56 L98.39,112.97 L98.49,112.4 L98.59,111.84 L98.69,111.29 L98.79,110.76 L98.89,110.24 L98.99,109.73 L99.09,109.24 L99.19,108.75 L99.29,108.28 L99.39,107.82 L99.49,107.36 L99.59,106.92 L99.69,106.48 L99.79,106.06 L99.89,105.64 L99.99,105.23 L100.09,104.83 L100.19,104.43 L100.29,104.04 L100.39,103.66 L100.49,103.29 L100.59,102.92 L100.69,102.56 L100.79,102.2 L100.89,101.85 L100.99,101.51 L101.09,101.17 L101.19,100.83 L101.29,100.5 L101.39,100.18 L101.49,99.86 L101.59,99.55 L101.69,99.24 L101.79,98.93 L101.89,98.63 L101.99,98.33 L102.09,98.04 L102.19,97.75 L102.29,97.47 L102.39,97.19 L102.49,96.91 L102.59,96.63 L102.69,96.36 L102.79,96.1 L102.89,95.83 L102.99,95.57 L103.09,95.31 L103.19,95.06 L103.29,94.81 L103.39,94.56 L103.49,94.31 L103.59,94.07 L103.69,93.83 L103.79,93.59 L103.89,93.36 L103.99,93.12 L104.09,92.89 L104.19,92.66 L104.29,92.44 L104.39,92.22 L104.49,92 L104.59,91.78 L104.69,91.56 L104.79,91.35 L104.89,91.13 L104.99,90.92 L105.09,90.72 L105.19,90.51 L105.29,90.31 L105.39,90.1 L105.49,89.9 L105.59,89.71 L105.69,89.51 L105.79,89.32 L105.89,89.12 L105.99,88.93 L106.09,88.74 L106.19,88.55 L106.29,88.37 L106.39,88.18 L106.49,88 L106.59,87.82 L106.69,87.64 L106.79,87.46 L106.89,87.28 L106.99,87.11 L107.09,86.93 L107.19,86.76 L107.29,86.59 L107.39,86.42 L107.49,86.25 L107.59,86.08 L107.69,85.92 L107.79,85.75 L107.89,85.59 L107.99,85.42 L108.09,85.26 L108.19,85.1 L108.29,84.94 L108.39,84.79 L108.49,84.63 L108.59,84.48 L108.69,84.32 L108.79,84.17 L108.89,84.02 L108.99,83.87 L109.09,83.72 L109.19,83.57 L109.29,83.42 L109.39,83.27 L109.49,83.13 L109.59,82.98 L109.69,82.84 L109.79,82.69 L109.89,82.55 L109.99,82.41 L110.5,81.71 L111.5,80.39 L112.5,79.14 L113.5,77.97 L114.5,76.85 L115.5,75.8 L116.5,74.79 L117.5,73.82 L118.5,72.9 L119.5,72.01 L120.5,71.16 L121.5,70.35 L122.5,69.56 L123.5,68.8 L124.5,68.07 L125.5,67.36 L126.5,66.67 L127.5,66 L128.5,65.36 L129.5,64.73 L130.5,64.12 L131.5,63.53 L132.5,62.95 L133.5,62.39 L134.5,61.85 L135.5,61.31 L136.5,60.79 L137.5,60.28 L138.5,59.79 L139.5,59.3 L140.5,58.83 L141.5,58.36 L142.5,57.91 L143.5,57.46 L144.5,57.03 L145.5,56.6 L146.5,56.18 L147.5,55.77 L148.5,55.37 L149.5,54.97 L150.5,54.58 L151.5,54.2 L152.5,53.82 L153.5,53.46 L154.5,53.09 L155.5,52.74 L156.5,52.39 L157.5,52.04 L158.5,51.7 L159.5,51.37 L160.5,51.04 L161.5,50.71 L162.5,50.39 L163.5,50.08 L164.5,49.77 L165.5,49.46 L166.5,49.16 L167.5,48.86 L168.5,48.57 L169.5,48.28 L170.5,48 L171.5,47.71 L172.5,47.44 L173.5,47.16 L174.5,46.89 L175.5,46.62 L176.5,46.36 L177.5,46.1 L178.5,45.84 L179.5,45.58 L180.5,45.33 L181.5,45.08 L182.5,44.84 L183.5,44.59 L184.5,44.35 L185.5,44.11 L186.5,43.88 L187.5,43.65 L188.5,43.42 L189.5,43.19 L190.5,42.96 L191.5,42.74 L192.5,42.52 L193.5,42.3 L194.5,42.08 L195.5,41.87 L196.5,41.66 L197.5,41.45 L198.5,41.24 L199.5,41.03 L200.5,40.83 L201.5,40.62 L202.5,40.42 L203.5,40.23 L204.5,40.03 L205.5,39.83 L206.5,39.64 L207.5,39.45 L208.5,39.26 L209.5,39.07 L210.5,38.89 L211.5,38.7 L212.5,38.52 L213.5,38.34 L214.5,38.16 L215.5,37.98 L216.5,37.8 L217.5,37.62 L218.5,37.45 L219.5,37.28 L220.5,37.11 L221.5,36.93 L222.5,36.77 L223.5,36.6 L224.5,36.43 L225.5,36.27 L226.5,36.1 L227.5,35.94 L228.5,35.78 L229.5,35.62 L230.5,35.46 L231.5,35.3 L232.5,35.15 L233.5,34.99 L234.5,34.84 L235.5,34.68 L236.5,34.53 L237.5,34.38 L238.5,34.23 L239.5,34.08 L240.5,33.93 L241.5,33.79 L242.5,33.64 L243.5,33.5 L244.5,33.35 L245.5,33.21 L246.5,33.07 L247.5,32.93 L248.5,32.78 L249.5,32.65 L250.5,32.51 L251.5,32.37 L252.5,32.23 L253.5,32.1 L254.5,31.96 L255.5,31.83 L256.5,31.69 L257.5,31.56 L258.5,31.43 L259.5,31.3 L260.5,31.17 L261.5,31.04 L262.5,30.91 L263.5,30.78" fill="none" stroke="#d40a0a" stroke-width="1.8"/>
<path d="M83.13,253.69 L83.23,249.97 L83.33,246.8 L83.43,244.04 L83.53,241.6 L83.63,239.4 L83.73,237.41 L83.83,235.59 L83.93,233.91 L84.03,232.35 L84.13,230.9 L84.23,229.54 L84.33,228.26 L84.43,227.05 L84.53,225.9 L84.63,224.82 L84.73,223.78 L84.83,222.8 L84.93,221.86 L85.03,220.95 L85.13,220.08 L85.23,219.25 L85.33,218.45 L85.43,217.68 L85.53,216.93 L85.63,216.21 L85.73,215.51 L85.83,214.83 L85.93,214.18 L86.03,213.54 L86.13,212.92 L86.23,212.32 L86.33,211.74 L86.43,211.17 L86.53,210.62 L86.63,210.08 L86.73,209.55 L86.83,209.04 L86.93,208.53 L87.03,208.04 L87.13,207.56 L87.23,207.09 L87.33,206.63 L87.43,206.18 L87.53,205.74 L87.63,205.31 L87.73,204.89 L87.83,204.47 L87.93,204.07 L88.03,203.67 L88.13,203.27 L88.23,202.89 L88.33,202.51 L88.43,202.14 L88.53,201.77 L88.63,201.41 L88.73,201.06 L88.83,200.71 L88.93,200.37 L89.03,200.03 L89.13,199.7 L89.23,199.37 L89.33,199.05 L89.43,198.74 L89.53,198.42 L89.63,198.11 L89.73,197.81 L89.83,197.51 L89.93,197.22 L90.03,196.93 L90.13,196.64 L90.23,196.35 L90.33,196.07 L90.43,195.8 L90.53,195.53 L90.63,195.26 L90.73,194.99 L90.83,194.73 L90.93,194.47 L91.03,194.21 L91.13,193.96 L91.23,193.71 L91.33,193.46 L91.43,193.21 L91.53,192.97 L91.63,192.73 L91.73,192.5 L91.83,192.26 L91.93,192.03 L92.03,191.8 L92.13,191.57 L92.23,191.35 L92.33,191.13 L92.43,190.91 L92.53,190.69 L92.63,190.47 L92.73,190.26 L92.83,190.05 L92.93,189.84 L93.03,189.63 L93.13,189.43 L93.23,189.23 L93.33,189.02 L93.43,188.83 L93.53,188.63 L93.63,188.43 L93.73,188.24 L93.83,188.05 L93.93,187.85 L94.03,187.67 L94.13,187.48 L94.23,187.29 L94.33,187.11 L94.43,186.93 L94.53,186.75 L94.63,186.57 L94.73,186.39 L94.83,186.21 L94.93,186.04 L95.03,185.86 L95.13,185.69 L95.23,185.52 L95.33,185.35 L95.43,185.18 L95.53,185.02 L95.63,184.85 L95.73,184.69 L95.83,184.52 L95.93,184.36 L96.03,184.2 L96.13,184.04 L96.23,183.88 L96.33,183.72 L96.43,183.57 L96.53,183.41 L96.63,183.26 L96.73,183.11 L96.83,182.96 L96.93,182.81 L97.03,182.66 L97.13,182.51 L97.23,182.36 L97.33,182.21 L97.43,182.07 L97.53,181.92 L97.63,181.78 L97.73,181.64 L97.83,181.5 L97.93,181.35 L98.03,181.22 L98.13,181.08 L98.23,180.94 L98.33,180.8 L98.43,180.66 L98.53,180.53 L98.63,180.4 L98.73,180.26 L98.83,180.13 L98.93,180 L99.03,179.87 L99.13,179.73 L99.23,179.61 L99.33,179.48 L99.43,179.35 L99.53,179.22 L99.63,179.09 L99.73,178.97 L99.83,178.84 L99.93,178.72 L100.5,178.02 L101.5,176.85 L102.5,175.75 L103.5,174.69 L104.5,173.69 L105.5,172.73 L106.5,171.81 L107.5,170.93 L108.5,170.08 L109.5,169.27 L110.5,168.48 L111.5,167.72 L112.5,166.99 L113.5,166.29 L114.5,165.6 L115.5,164.94 L116.5,164.29 L117.5,163.67 L118.5,163.06 L119.5,162.47 L120.5,161.9 L121.5,161.34 L122.5,160.79 L123.5,160.26 L124.5,159.74 L125.5,159.23 L126.5,158.74 L127.5,158.25 L128.5,157.78 L129.5,157.32 L130.5,156.86 L131.5,156.42 L132.5,155.98 L133.5,155.56 L134.5,155.14 L135.5,154.73 L136.5,154.33 L137.5,153.93 L138.5,153.54 L139.5,153.16 L140.5,152.79 L141.5,152.42 L142.5,152.06 L143.5,151.7 L144.5,151.35 L145.5,151.01 L146.5,150.67 L147.5,150.33 L148.5,150 L149.5,149.68 L150.5,149.36 L151.5,149.05 L152.5,148.74 L153.5,148.43 L154.5,148.13 L155.5,147.83 L156.5,147.54 L157.5,147.25 L158.5,146.97 L159.5,146.69 L160.5,146.41 L161.5,146.13 L162.5,145.86 L163.5,145.6 L164.5,145.33 L165.5,145.07 L166.5,144.81 L167.5,144.56 L168.5,144.31 L169.5,144.06 L170.5,143.81 L171.5,143.57 L172.5,143.33 L173.5,143.09 L174.5,142.86 L175.5,142.62 L176.5,142.39 L177.5,142.16 L178.5,141.94 L179.5,141.72 L180.5,141.5 L181.5,141.28 L182.5,141.06 L183.5,140.85 L184.5,140.63 L185.5,140.42 L186.5,140.22 L187.5,140.01 L188.5,139.81 L189.5,139.6 L190.5,139.4 L191.5,139.21 L192.5,139.01 L193.5,138.82 L194.5,138.62 L195.5,138.43 L196.5,138.24 L197.5,138.05 L198.5,137.87 L199.5,137.68 L200.5,137.5 L201.5,137.32 L202.5,137.14 L203.5,136.96 L204.5,136.78 L205.5,136.61 L206.5,136.43 L207.5,136.26 L208.5,136.09 L209.5,135.92 L210.5,135.75 L211.5,135.58 L212.5,135.42 L213.5,135.25 L214.5,135.09 L215.5,134.92 L216.5,134.76 L217.5,134.6 L218.5,134.44 L219.5,134.29 L220.5,134.13 L221.5,133.98 L222.5,133.82 L223.5,133.67 L224.5,133.52 L225.5,133.37 L226.5,133.22 L227.5,133.07 L228.5,132.92 L229.5,132.77 L230.5,132.63 L231.5,132.48 L232.5,132.34 L233.5,132.19 L234.5,132.05 L235.5,131.91 L236.5,131.77 L237.5,131.63 L238.5,131.49 L239.5,131.36 L240.5,131.22 L241.5,131.08 L242.5,130.95 L243.5,130.81 L244.5,130.68 L245.5,130.55 L246.5,130.42 L247.5,130.29 L248.5,130.16 L249.5,130.03 L250.5,129.9 L251.5,129.77 L252.5,129.64 L253.5,129.52 L254.5,129.39 L255.5,129.27 L256.5,129.14 L257.5,129.02 L258.5,128.9 L259.5,128.78 L260.5,128.66 L261.5,128.54 L262.5,128.42 L263.5,128.3" fill="none" stroke="#d40a0a" stroke-width="1.8"/>
</g>
<line x1="71" y1="60" x2="71" y2="260" stroke="#4633ff" stroke-width="1.6"/>
<path d="M71,56.8 L68.2,65.3 L71,62.5 L73.8,65.3 Z" fill="#4633ff"/>
<path d="M71,157.8 L68.2,166.3 L71,163.5 L73.8,166.3 Z" fill="#4633ff"/>
<path d="M71,263.4 L68.2,254.9 L71,257.7 L73.8,254.9 Z" fill="#4633ff"/>
<line x1="121.9" y1="44.8" x2="121.9" y2="67.3" stroke="#4633ff" stroke-width="1.6"/>
<path d="M121.9,41.8 L119.1,50.3 L121.9,47.5 L124.7,50.3 Z" fill="#4633ff"/>
<path d="M121.9,70.3 L119.1,61.8 L121.9,64.6 L124.7,61.8 Z" fill="#4633ff"/>
<line x1="142.2" y1="40.6" x2="142.2" y2="56" stroke="#4633ff" stroke-width="1.6"/>
<path d="M142.2,37.6 L139.4,46.1 L142.2,43.3 L145,46.1 Z" fill="#4633ff"/>
<path d="M142.2,59 L139.4,50.5 L142.2,53.3 L145,50.5 Z" fill="#4633ff"/>
<line x1="106.3" y1="148.2" x2="106.3" y2="168.3" stroke="#4633ff" stroke-width="1.6"/>
<path d="M106.3,145.2 L103.5,153.7 L106.3,150.9 L109.1,153.7 Z" fill="#4633ff"/>
<path d="M106.3,171.3 L103.5,162.8 L106.3,165.6 L109.1,162.8 Z" fill="#4633ff"/>
<line x1="122.2" y1="144.5" x2="122.2" y2="157.7" stroke="#4633ff" stroke-width="1.6"/>
<path d="M122.2,141.5 L119.4,150 L122.2,147.2 L125,150 Z" fill="#4633ff"/>
<path d="M122.2,160.7 L119.4,152.2 L122.2,155 L125,152.2 Z" fill="#4633ff"/>
<path d="M57.7,381.9 V0.95 H263.8 V381.9 Z" fill="none" stroke="#3c3c3c" stroke-width="1.8"/>
<path d="M57.7,0.95 V381.9 H263.8" fill="none" stroke="#111" stroke-width="1.4"/>
<path d="M263.8,6.8 V16.9 M263.8,103.8 V112.6" fill="none" stroke="#000" stroke-width="1.2"/>
<path d="M57.7,381.9 h4.2 M57.7,367 h2.2 M57.7,358.28 h2.2 M57.7,352.1 h2.2 M57.7,347.3 h2.2 M57.7,343.38 h2.2 M57.7,340.07 h2.2 M57.7,337.2 h2.2 M57.7,334.66 h2.2 M57.7,332.4 h4.2 M57.7,317.5 h2.2 M57.7,308.78 h2.2 M57.7,302.6 h2.2 M57.7,297.8 h2.2 M57.7,293.88 h2.2 M57.7,290.57 h2.2 M57.7,287.7 h2.2 M57.7,285.16 h2.2 M57.7,282.9 h4.2 M57.7,268 h2.2 M57.7,259.28 h2.2 M57.7,253.1 h2.2 M57.7,248.3 h2.2 M57.7,244.38 h2.2 M57.7,241.07 h2.2 M57.7,238.2 h2.2 M57.7,235.66 h2.2 M57.7,233.4 h4.2 M57.7,218.5 h2.2 M57.7,209.78 h2.2 M57.7,203.6 h2.2 M57.7,198.8 h2.2 M57.7,194.88 h2.2 M57.7,191.57 h2.2 M57.7,188.7 h2.2 M57.7,186.16 h2.2 M57.7,183.9 h4.2 M57.7,169 h2.2 M57.7,160.28 h2.2 M57.7,154.1 h2.2 M57.7,149.3 h2.2 M57.7,145.38 h2.2 M57.7,142.07 h2.2 M57.7,139.2 h2.2 M57.7,136.66 h2.2 M57.7,134.4 h4.2 M57.7,119.5 h2.2 M57.7,110.78 h2.2 M57.7,104.6 h2.2 M57.7,99.8 h2.2 M57.7,95.88 h2.2 M57.7,92.57 h2.2 M57.7,89.7 h2.2 M57.7,87.16 h2.2 M57.7,84.9 h4.2 M57.7,70 h2.2 M57.7,61.28 h2.2 M57.7,55.1 h2.2 M57.7,50.3 h2.2 M57.7,46.38 h2.2 M57.7,43.07 h2.2 M57.7,40.2 h2.2 M57.7,37.66 h2.2 M57.7,35.4 h4.2 M57.7,20.5 h2.2 M57.7,11.78 h2.2 M57.7,5.6 h2.2 M111.4,381.9 v-4 M160.65,381.9 v-4 M209.9,381.9 v-4 M259.15,381.9 v-4 M87,381.9 v-2.2 M136.2,381.9 v-2.2 M185.5,381.9 v-2.2 M234.8,381.9 v-2.2" stroke="#000" stroke-width="1.1" fill="none"/>
<text x="53.9" y="385.35" font-family="Liberation Sans, sans-serif" font-size="15.6" text-anchor="end">10<tspan font-size="10.6" dx="0.8" dy="-4.6">6</tspan></text>
<text x="53.9" y="336.5" font-family="Liberation Sans, sans-serif" font-size="15.6" text-anchor="end">10<tspan font-size="10.6" dx="0.8" dy="-4.6">7</tspan></text>
<text x="53.9" y="287.65" font-family="Liberation Sans, sans-serif" font-size="15.6" text-anchor="end">10<tspan font-size="10.6" dx="0.8" dy="-4.6">8</tspan></text>
<text x="53.9" y="238.8" font-family="Liberation Sans, sans-serif" font-size="15.6" text-anchor="end">10<tspan font-size="10.6" dx="0.8" dy="-4.6">9</tspan></text>
<text x="53.9" y="189.95" font-family="Liberation Sans, sans-serif" font-size="15.6" text-anchor="end">10<tspan font-size="10.6" dx="0.8" dy="-4.6">10</tspan></text>
<text x="53.9" y="141.1" font-family="Liberation Sans, sans-serif" font-size="15.6" text-anchor="end">10<tspan font-size="10.6" dx="0.8" dy="-4.6">11</tspan></text>
<text x="53.9" y="92.25" font-family="Liberation Sans, sans-serif" font-size="15.6" text-anchor="end">10<tspan font-size="10.6" dx="0.8" dy="-4.6">12</tspan></text>
<text x="53.9" y="43.4" font-family="Liberation Sans, sans-serif" font-size="15.6" text-anchor="end">10<tspan font-size="10.6" dx="0.8" dy="-4.6">13</tspan></text>
<text x="48.3" y="399.3" font-family="Liberation Sans, sans-serif" font-size="15" text-anchor="middle">0.5</text>
<text x="93.6" y="399.3" font-family="Liberation Sans, sans-serif" font-size="15" text-anchor="middle">1.0</text>
<text x="143.2" y="399.3" font-family="Liberation Sans, sans-serif" font-size="15" text-anchor="middle">1.5</text>
<text x="191.9" y="399.3" font-family="Liberation Sans, sans-serif" font-size="15" text-anchor="middle">2.0</text>
<text x="242" y="399.3" font-family="Liberation Sans, sans-serif" font-size="15" text-anchor="middle">2.5</text>
<text x="145.3" y="419.6" font-family="Liberation Sans, sans-serif" font-size="16" font-weight="bold"><tspan font-style="italic">V</tspan><tspan font-style="italic" font-size="11" dy="3">gs</tspan><tspan dy="-3"> (V)</tspan></text>
<text transform="translate(13.5,196.2) rotate(-90)" font-family="Liberation Sans, sans-serif" font-size="16" font-weight="bold" text-anchor="middle"><tspan font-style="italic">n</tspan><tspan font-style="italic" font-size="10.5" dy="3">ch</tspan><tspan dy="-3"> (cm</tspan><tspan font-size="10.5" dy="-6">-2</tspan><tspan dy="6">)</tspan></text>
<text x="65.2" y="20.2" font-family="Liberation Sans, sans-serif" font-size="18">(a)</text>
<text x="191.9" y="16.8" font-family="Liberation Sans, sans-serif" font-size="14.3">3 nm SiO<tspan font-size="10" dy="3.2">2</tspan></text>
<text x="176.4" y="114.1" font-family="Liberation Sans, sans-serif" font-size="14.3">300 nm SiO<tspan font-size="10" dy="3.2">2</tspan></text>
<line x1="190.3" y1="175.2" x2="220.9" y2="175.2" stroke="#000" stroke-width="1.8"/>
<text x="228.4" y="177.9" font-family="Liberation Sans, sans-serif" font-size="16.5" font-style="italic">n<tspan font-size="10.8" dy="4.8">ch</tspan></text>
<line x1="190.3" y1="197.6" x2="220.9" y2="197.6" stroke="#0a00f6" stroke-width="1.8"/>
<text x="228.4" y="200.3" font-family="Liberation Sans, sans-serif" font-size="16.5" font-style="italic">n<tspan font-size="10.8" dy="4.8">ox</tspan></text>
<line x1="190.3" y1="219.5" x2="220.9" y2="219.5" stroke="#78f01e" stroke-width="1.8"/>
<text x="228.4" y="222.2" font-family="Liberation Sans, sans-serif" font-size="16.5" font-style="italic">n<tspan font-size="10.8" dy="4.8">low</tspan></text>
<line x1="190.3" y1="241.2" x2="220.9" y2="241.2" stroke="#d40a0a" stroke-width="1.8"/>
<text x="228.4" y="243.9" font-family="Liberation Sans, sans-serif" font-size="16.5" font-style="italic">n<tspan font-size="10.8" dy="4.8">high</tspan></text>
<g stroke="#d9302c" stroke-width="1.2" fill="none">
<path d="M146.5,283.4 H189.5 M192.5,283.4 H241.3 V291.6"/>
<path d="M235.6,291.6 H246.9 M237.5,294.2 H245 M239.2,296.9 H243.4"/>
<path d="M189.5,277.5 V289.7" stroke-width="1.3"/><path d="M192.5,281.2 V286.5" stroke-width="1.3"/>
<path d="M144.7,285 V312.5 M144.7,315.5 V338.5 M144.7,341 V349.4"/>
<path d="M140.4,312.5 H149.1 M140.4,315.5 H149.1 M140.4,338.5 H149.1 M140.4,341 H149.1" stroke-width="1.3"/>
<path d="M99,349.4 H186 M203,349.4 H230"/>
<path d="M186,349.4 l1.4,-1.8 l2.8,3.6 l2.8,-3.6 l2.8,3.6 l2.8,-3.6 l2.8,3.6 l1.4,-1.8"/>
<path d="M97.3,351 V359.3 M92,359.3 H102.9 M94,362.2 H101 M95.6,364.8 H99.4"/>
<path d="M233.4,349.6 H242.7 M246,349.6 H257 V356.3 M252.3,356.3 H261.7 M253.8,359 H260.2 M255.4,361.7 H258.6"/>
<path d="M242.7,344.1 V355.6 M246,347.4 V352.1" stroke-width="1.3"/>
<path d="M151.6,307.2 Q159,314.4 151.6,321.6"/><path d="M151.6,332.2 Q159,339.4 151.6,346.6"/>
</g>
<g fill="#d9302c">
<path d="M150.6,306 l4.2,1.2 l-2.2,2.6 z M150.6,322.8 l4.2,-1.2 l-2.2,-2.6 z M150.6,331 l4.2,1.2 l-2.2,2.6 z M150.6,347.8 l4.2,-1.2 l-2.2,-2.6 z"/>
</g>
<circle cx="145" cy="283.5" r="1.7" fill="#fff" stroke="#d9302c" stroke-width="1.1"/>
<circle cx="97.3" cy="349.3" r="1.7" fill="#fff" stroke="#d9302c" stroke-width="1.1"/>
<circle cx="231.7" cy="349.6" r="1.7" fill="#fff" stroke="#d9302c" stroke-width="1.1"/>
<path d="M123.2,302.4 V327.8 M210.2,302.4 V327.8 M123.2,327.8 H210.2 M123.2,353.3 H210.2" stroke="#8a8a8a" stroke-width="1.1" fill="none"/>
<rect x="123.1" y="296.4" width="87.2" height="6" fill="url(#el)" stroke="#000" stroke-width="0.8"/>
<rect x="113.1" y="327.6" width="10.3" height="25.8" fill="url(#el)" stroke="#000" stroke-width="0.8"/>
<rect x="210.2" y="327.6" width="10.4" height="25.6" fill="url(#el)" stroke="#000" stroke-width="0.8"/>
<text x="135.3" y="276" font-family="Liberation Sans, sans-serif" font-size="10.3">Gate</text>
<text x="185.2" y="270.7" font-family="Liberation Sans, sans-serif" font-size="10.3">V<tspan font-size="7.5" dy="3">gs</tspan></text>
<text x="176.2" y="317.5" font-family="Liberation Sans, sans-serif" font-size="10.8">Oxide</text>
<text x="181" y="340.7" font-family="Liberation Sans, sans-serif" font-size="10.8">TMD</text>
<text x="72.6" y="342.4" font-family="Liberation Sans, sans-serif" font-size="10.5">Source</text>
<text x="225" y="337.9" font-family="Liberation Sans, sans-serif" font-size="10.5">Drain</text>
<text x="238.8" y="368" font-family="Liberation Sans, sans-serif" font-size="10.5">V<tspan font-size="7.5" dy="2.2">ds</tspan></text>
<text x="125.8" y="317" font-family="Liberation Sans, sans-serif" font-size="11" fill="#d9302c">C<tspan font-size="8" dy="2">ox</tspan></text>
<text x="157.5" y="317" font-family="Liberation Sans, sans-serif" font-size="11" fill="#d9302c">V<tspan font-size="8" dy="2">ox</tspan></text>
<text x="125.8" y="342.2" font-family="Liberation Sans, sans-serif" font-size="11" fill="#d9302c">C<tspan font-size="8" dy="2">q</tspan></text>
<text x="157.5" y="342.2" font-family="Liberation Sans, sans-serif" font-size="11" fill="#d9302c">V<tspan font-size="8" dy="2">ch</tspan></text>
<text x="188.3" y="363.2" font-family="Liberation Sans, sans-serif" font-size="10.5" fill="#d9302c">R<tspan font-size="7.8" dy="2.3">ch</tspan></text>
<g clip-path="url(#cb)">
<path d="M315.3,367.2 H513.2" stroke="#1c1a38" stroke-width="1.6" fill="none"/>
<path d="M315.3,366.82 L315.8,366.8 L316.3,366.78 L316.8,366.76 L317.3,366.74 L317.8,366.72 L318.3,366.7 L318.8,366.68 L319.3,366.66 L319.8,366.63 L320.3,366.61 L320.8,366.58 L321.3,366.55 L321.8,366.52 L322.3,366.49 L322.8,366.46 L323.3,366.42 L323.8,366.39 L324.3,366.35 L324.8,366.31 L325.3,366.27 L325.8,366.23 L326.3,366.19 L326.8,366.14 L327.3,366.09 L327.8,366.04 L328.3,365.99 L328.8,365.94 L329.3,365.88 L329.8,365.82 L330.3,365.76 L330.8,365.69 L331.3,365.63 L331.8,365.55 L332.3,365.48 L332.8,365.4 L333.3,365.32 L333.8,365.24 L334.3,365.15 L334.8,365.06 L335.3,364.96 L335.8,364.86 L336.3,364.75 L336.8,364.64 L337.3,364.53 L337.8,364.41 L338.3,364.28 L338.8,364.15 L339.3,364.02 L339.8,363.87 L340.3,363.73 L340.8,363.57 L341.3,363.41 L341.8,363.24 L342.3,363.06 L342.8,362.88 L343.3,362.69 L343.8,362.49 L344.3,362.28 L344.8,362.06 L345.3,361.83 L345.8,361.6 L346.3,361.35 L346.8,361.09 L347.3,360.82 L347.8,360.54 L348.3,360.25 L348.8,359.95 L349.3,359.63 L349.8,359.3 L350.3,358.95 L350.8,358.59 L351.3,358.22 L351.8,357.83 L352.3,357.43 L352.8,357 L353.3,356.56 L353.8,356.11 L354.3,355.63 L354.8,355.14 L355.3,354.62 L355.8,354.08 L356.3,353.53 L356.8,352.95 L357.3,352.35 L357.8,351.72 L358.3,351.07 L358.8,350.39 L359.3,349.69 L359.8,348.96 L360.3,348.21 L360.8,347.42 L361.3,346.61 L361.8,345.76 L362.3,344.89 L362.8,343.98 L363.3,343.04 L363.8,342.07 L364.3,341.06 L364.8,340.02 L365.3,338.94 L365.8,337.82 L366.3,336.66 L366.8,335.47 L367.3,334.23 L367.8,332.96 L368.3,331.64 L368.8,330.28 L369.3,328.88 L369.8,327.43 L370.3,325.94 L370.8,324.41 L371.3,322.83 L371.8,321.2 L372.3,319.52 L372.8,317.8 L373.3,316.03 L373.8,314.22 L374.3,312.35 L374.8,310.44 L375.3,308.48 L375.8,306.46 L376.3,304.4 L376.8,302.3 L377.3,300.14 L377.8,297.93 L378.3,295.68 L378.8,293.38 L379.3,291.03 L379.8,288.64 L380.3,286.2 L380.8,283.72 L381.3,281.19 L381.8,278.62 L382.3,276.01 L382.8,273.36 L383.3,270.67 L383.8,267.94 L384.3,265.18 L384.8,262.38 L385.3,259.55 L385.8,256.69 L386.3,253.8 L386.8,250.88 L387.3,247.94 L387.8,244.98 L388.3,242 L388.8,238.99 L389.3,235.98 L389.8,232.95 L390.3,229.9 L390.8,226.85 L391.3,223.8 L391.8,220.74 L392.3,217.67 L392.8,214.61 L393.3,211.55 L393.8,208.5 L394.3,205.46 L394.8,202.42 L395.3,199.4 L395.8,196.4 L396.3,193.41 L396.8,190.44 L397.3,187.49 L397.8,184.57 L398.3,181.67 L398.8,178.8 L399.3,175.96 L399.8,173.15 L400.3,170.37 L400.8,167.62 L401.3,164.91 L401.8,162.24 L402.3,159.61 L402.8,157.01 L403.3,154.46 L403.8,151.94 L404.3,149.47 L404.8,147.04 L405.3,144.66 L405.8,142.32 L406.3,140.02 L406.8,137.77 L407.3,135.56 L407.8,133.4 L408.3,131.29 L408.8,129.22 L409.3,127.2 L409.8,125.22 L410.3,123.29 L410.8,121.4 L411.3,119.56 L411.8,117.77 L412.3,116.02 L412.8,114.31 L413.3,112.65 L413.8,111.03 L414.3,109.45 L414.8,107.92 L415.3,106.43 L415.8,104.98 L416.3,103.56 L416.8,102.19 L417.3,100.86 L417.8,99.57 L418.3,98.31 L418.8,97.09 L419.3,95.91 L419.8,94.76 L420.3,93.65 L420.8,92.57 L421.3,91.53 L421.8,90.52 L422.3,89.53 L422.8,88.58 L423.3,87.66 L423.8,86.77 L424.3,85.91 L424.8,85.07 L425.3,84.27 L425.8,83.49 L426.3,82.73 L426.8,82 L427.3,81.29 L427.8,80.61 L428.3,79.95 L428.8,79.31 L429.3,78.7 L429.8,78.1 L430.3,77.53 L430.8,76.97 L431.3,76.44 L431.8,75.92 L432.3,75.42 L432.8,74.94 L433.3,74.47 L433.8,74.02 L434.3,73.59 L434.8,73.17 L435.3,72.77 L435.8,72.38 L436.3,72 L436.8,71.64 L437.3,71.29 L437.8,70.95 L438.3,70.63 L438.8,70.31 L439.3,70.01 L439.8,69.72 L440.3,69.44 L440.8,69.17 L441.3,68.91 L441.8,68.66 L442.3,68.41 L442.8,68.18 L443.3,67.95 L443.8,67.74 L444.3,67.53 L444.8,67.33 L445.3,67.13 L445.8,66.95 L446.3,66.77 L446.8,66.59 L447.3,66.43 L447.8,66.26 L448.3,66.11 L448.8,65.96 L449.3,65.82 L449.8,65.68 L450.3,65.54 L450.8,65.42 L451.3,65.29 L451.8,65.17 L452.3,65.06 L452.8,64.95 L453.3,64.84 L453.8,64.74 L454.3,64.64 L454.8,64.54 L455.3,64.45 L455.8,64.36 L456.3,64.28 L456.8,64.2 L457.3,64.12 L457.8,64.04 L458.3,63.97 L458.8,63.9 L459.3,63.83 L459.8,63.77 L460.3,63.71 L460.8,63.65 L461.3,63.59 L461.8,63.53 L462.3,63.48 L462.8,63.43 L463.3,63.38 L463.8,63.33 L464.3,63.28 L464.8,63.24 L465.3,63.2 L465.8,63.15 L466.3,63.11 L466.8,63.08 L467.3,63.04 L467.8,63 L468.3,62.97 L468.8,62.94 L469.3,62.91 L469.8,62.88 L470.3,62.85 L470.8,62.82 L471.3,62.79 L471.8,62.77 L472.3,62.74 L472.8,62.72 L473.3,62.69 L473.8,62.67 L474.3,62.65 L474.8,62.63 L475.3,62.61 L475.8,62.59 L476.3,62.57 L476.8,62.55 L477.3,62.54 L477.8,62.52 L478.3,62.5 L478.8,62.49 L479.3,62.47 L479.8,62.46 L480.3,62.45 L480.8,62.43 L481.3,62.42 L481.8,62.41 L482.3,62.4 L482.8,62.39 L483.3,62.38 L483.8,62.36 L484.3,62.35 L484.8,62.35 L485.3,62.34 L485.8,62.33 L486.3,62.32 L486.8,62.31 L487.3,62.3 L487.8,62.29 L488.3,62.29 L488.8,62.28 L489.3,62.27 L489.8,62.27 L490.3,62.26 L490.8,62.25 L491.3,62.25 L491.8,62.24 L492.3,62.24 L492.8,62.23 L493.3,62.23 L493.8,62.22 L494.3,62.22 L494.8,62.21 L495.3,62.21 L495.8,62.21 L496.3,62.2 L496.8,62.2 L497.3,62.19 L497.8,62.19 L498.3,62.19 L498.8,62.18 L499.3,62.18 L499.8,62.18 L500.3,62.17 L500.8,62.17 L501.3,62.17 L501.8,62.17 L502.3,62.16 L502.8,62.16 L503.3,62.16 L503.8,62.16 L504.3,62.15 L504.8,62.15 L505.3,62.15 L505.8,62.15 L506.3,62.15 L506.8,62.15 L507.3,62.14 L507.8,62.14 L508.3,62.14 L508.8,62.14 L509.3,62.14 L509.8,62.14 L510.3,62.13 L510.8,62.13 L511.3,62.13 L511.8,62.13 L512.3,62.13 L512.8,62.13" fill="none" stroke="#0a00f6" stroke-width="2.1"/>
<path d="M315.3,367.2 L315.8,367.2 L316.3,367.2 L316.8,367.2 L317.3,367.2 L317.8,367.2 L318.3,367.2 L318.8,367.2 L319.3,367.2 L319.8,367.2 L320.3,367.2 L320.8,367.2 L321.3,367.2 L321.8,367.2 L322.3,367.2 L322.8,367.2 L323.3,367.2 L323.8,367.2 L324.3,367.2 L324.8,367.2 L325.3,367.2 L325.8,367.2 L326.3,367.2 L326.8,367.2 L327.3,367.2 L327.8,367.2 L328.3,367.2 L328.8,367.2 L329.3,367.2 L329.8,367.2 L330.3,367.2 L330.8,367.2 L331.3,367.2 L331.8,367.2 L332.3,367.2 L332.8,367.2 L333.3,367.2 L333.8,367.2 L334.3,367.19 L334.8,367.19 L335.3,367.19 L335.8,367.19 L336.3,367.19 L336.8,367.19 L337.3,367.19 L337.8,367.19 L338.3,367.19 L338.8,367.19 L339.3,367.19 L339.8,367.19 L340.3,367.19 L340.8,367.19 L341.3,367.19 L341.8,367.19 L342.3,367.19 L342.8,367.19 L343.3,367.19 L343.8,367.19 L344.3,367.19 L344.8,367.19 L345.3,367.18 L345.8,367.18 L346.3,367.18 L346.8,367.18 L347.3,367.18 L347.8,367.18 L348.3,367.18 L348.8,367.18 L349.3,367.18 L349.8,367.17 L350.3,367.17 L350.8,367.17 L351.3,367.17 L351.8,367.17 L352.3,367.17 L352.8,367.17 L353.3,367.16 L353.8,367.16 L354.3,367.16 L354.8,367.16 L355.3,367.16 L355.8,367.15 L356.3,367.15 L356.8,367.15 L357.3,367.15 L357.8,367.14 L358.3,367.14 L358.8,367.14 L359.3,367.13 L359.8,367.13 L360.3,367.13 L360.8,367.12 L361.3,367.12 L361.8,367.11 L362.3,367.11 L362.8,367.11 L363.3,367.1 L363.8,367.09 L364.3,367.09 L364.8,367.08 L365.3,367.08 L365.8,367.07 L366.3,367.06 L366.8,367.06 L367.3,367.05 L367.8,367.04 L368.3,367.03 L368.8,367.02 L369.3,367.02 L369.8,367.01 L370.3,367 L370.8,366.99 L371.3,366.97 L371.8,366.96 L372.3,366.95 L372.8,366.94 L373.3,366.92 L373.8,366.91 L374.3,366.89 L374.8,366.88 L375.3,366.86 L375.8,366.84 L376.3,366.82 L376.8,366.81 L377.3,366.78 L377.8,366.76 L378.3,366.74 L378.8,366.72 L379.3,366.69 L379.8,366.66 L380.3,366.64 L380.8,366.61 L381.3,366.58 L381.8,366.55 L382.3,366.51 L382.8,366.48 L383.3,366.44 L383.8,366.4 L384.3,366.36 L384.8,366.31 L385.3,366.27 L385.8,366.22 L386.3,366.17 L386.8,366.12 L387.3,366.06 L387.8,366 L388.3,365.94 L388.8,365.88 L389.3,365.81 L389.8,365.74 L390.3,365.67 L390.8,365.59 L391.3,365.51 L391.8,365.42 L392.3,365.33 L392.8,365.24 L393.3,365.14 L393.8,365.03 L394.3,364.92 L394.8,364.81 L395.3,364.69 L395.8,364.56 L396.3,364.43 L396.8,364.29 L397.3,364.15 L397.8,363.99 L398.3,363.83 L398.8,363.67 L399.3,363.49 L399.8,363.31 L400.3,363.12 L400.8,362.91 L401.3,362.7 L401.8,362.48 L402.3,362.25 L402.8,362.01 L403.3,361.76 L403.8,361.49 L404.3,361.22 L404.8,360.93 L405.3,360.63 L405.8,360.31 L406.3,359.98 L406.8,359.64 L407.3,359.28 L407.8,358.9 L408.3,358.51 L408.8,358.1 L409.3,357.67 L409.8,357.23 L410.3,356.76 L410.8,356.28 L411.3,355.77 L411.8,355.25 L412.3,354.7 L412.8,354.13 L413.3,353.53 L413.8,352.92 L414.3,352.27 L414.8,351.6 L415.3,350.91 L415.8,350.19 L416.3,349.44 L416.8,348.66 L417.3,347.85 L417.8,347.01 L418.3,346.14 L418.8,345.24 L419.3,344.3 L419.8,343.34 L420.3,342.33 L420.8,341.3 L421.3,340.22 L421.8,339.11 L422.3,337.97 L422.8,336.78 L423.3,335.56 L423.8,334.29 L424.3,332.99 L424.8,331.65 L425.3,330.26 L425.8,328.84 L426.3,327.37 L426.8,325.86 L427.3,324.31 L427.8,322.71 L428.3,321.07 L428.8,319.39 L429.3,317.66 L429.8,315.89 L430.3,314.08 L430.8,312.22 L431.3,310.32 L431.8,308.38 L432.3,306.39 L432.8,304.36 L433.3,302.29 L433.8,300.18 L434.3,298.02 L434.8,295.83 L435.3,293.59 L435.8,291.32 L436.3,289 L436.8,286.65 L437.3,284.26 L437.8,281.84 L438.3,279.38 L438.8,276.89 L439.3,274.37 L439.8,271.82 L440.3,269.24 L440.8,266.63 L441.3,264 L441.8,261.34 L442.3,258.65 L442.8,255.95 L443.3,253.23 L443.8,250.49 L444.3,247.73 L444.8,244.96 L445.3,242.18 L445.8,239.39 L446.3,236.59 L446.8,233.78 L447.3,230.97 L447.8,228.15 L448.3,225.33 L448.8,222.52 L449.3,219.7 L449.8,216.89 L450.3,214.09 L450.8,211.3 L451.3,208.51 L451.8,205.74 L452.3,202.98 L452.8,200.23 L453.3,197.5 L453.8,194.79 L454.3,192.09 L454.8,189.42 L455.3,186.77 L455.8,184.14 L456.3,181.54 L456.8,178.96 L457.3,176.41 L457.8,173.89 L458.3,171.4 L458.8,168.93 L459.3,166.5 L459.8,164.1 L460.3,161.73 L460.8,159.39 L461.3,157.09 L461.8,154.82 L462.3,152.59 L462.8,150.39 L463.3,148.23 L463.8,146.1 L464.3,144.01 L464.8,141.95 L465.3,139.93 L465.8,137.95 L466.3,136.01 L466.8,134.1 L467.3,132.23 L467.8,130.4 L468.3,128.6 L468.8,126.84 L469.3,125.11 L469.8,123.43 L470.3,121.77 L470.8,120.16 L471.3,118.58 L471.8,117.03 L472.3,115.52 L472.8,114.04 L473.3,112.6 L473.8,111.19 L474.3,109.82 L474.8,108.47 L475.3,107.16 L475.8,105.88 L476.3,104.64 L476.8,103.42 L477.3,102.23 L477.8,101.08 L478.3,99.95 L478.8,98.85 L479.3,97.78 L479.8,96.74 L480.3,95.73 L480.8,94.74 L481.3,93.78 L481.8,92.84 L482.3,91.93 L482.8,91.04 L483.3,90.18 L483.8,89.34 L484.3,88.53 L484.8,87.74 L485.3,86.97 L485.8,86.22 L486.3,85.49 L486.8,84.78 L487.3,84.09 L487.8,83.43 L488.3,82.78 L488.8,82.15 L489.3,81.53 L489.8,80.94 L490.3,80.36 L490.8,79.8 L491.3,79.26 L491.8,78.73 L492.3,78.22 L492.8,77.72 L493.3,77.24 L493.8,76.77 L494.3,76.31 L494.8,75.87 L495.3,75.44 L495.8,75.03 L496.3,74.63 L496.8,74.24 L497.3,73.86 L497.8,73.49 L498.3,73.13 L498.8,72.79 L499.3,72.45 L499.8,72.13 L500.3,71.81 L500.8,71.51 L501.3,71.21 L501.8,70.93 L502.3,70.65 L502.8,70.38 L503.3,70.12 L503.8,69.86 L504.3,69.62 L504.8,69.38 L505.3,69.15 L505.8,68.93 L506.3,68.71 L506.8,68.5 L507.3,68.3 L507.8,68.1 L508.3,67.91 L508.8,67.73 L509.3,67.55 L509.8,67.38 L510.3,67.21 L510.8,67.05 L511.3,66.89 L511.8,66.74 L512.3,66.59 L512.8,66.45" fill="none" stroke="#0a00f6" stroke-width="2.1"/>
<path d="M315.3,62.1 H513.2" stroke="#1c1a38" stroke-width="1.6" fill="none"/>
</g>
<path d="M315.3,382.8 V0.6 H513.2 V382.8 Z" fill="none" stroke="#111" stroke-width="1.4"/>
<path d="M315.3,138.2 h2.2 M315.3,214.5 h4.2 M315.3,290.6 h2.2 M324.09,382.8 v-2.2 M329.05,382.8 v-2.2 M332.58,382.8 v-2.2 M335.31,382.8 v-2.2 M337.54,382.8 v-2.2 M339.43,382.8 v-2.2 M341.07,382.8 v-2.2 M342.51,382.8 v-2.2 M343.8,382.8 v-4 M352.29,382.8 v-2.2 M357.25,382.8 v-2.2 M360.78,382.8 v-2.2 M363.51,382.8 v-2.2 M365.74,382.8 v-2.2 M367.63,382.8 v-2.2 M369.27,382.8 v-2.2 M370.71,382.8 v-2.2 M372,382.8 v-4 M380.49,382.8 v-2.2 M385.45,382.8 v-2.2 M388.98,382.8 v-2.2 M391.71,382.8 v-2.2 M393.94,382.8 v-2.2 M395.83,382.8 v-2.2 M397.47,382.8 v-2.2 M398.91,382.8 v-2.2 M400.2,382.8 v-4 M408.69,382.8 v-2.2 M413.65,382.8 v-2.2 M417.18,382.8 v-2.2 M419.91,382.8 v-2.2 M422.14,382.8 v-2.2 M424.03,382.8 v-2.2 M425.67,382.8 v-2.2 M427.11,382.8 v-2.2 M428.4,382.8 v-4 M436.89,382.8 v-2.2 M441.85,382.8 v-2.2 M445.38,382.8 v-2.2 M448.11,382.8 v-2.2 M450.34,382.8 v-2.2 M452.23,382.8 v-2.2 M453.87,382.8 v-2.2 M455.31,382.8 v-2.2 M456.6,382.8 v-4 M465.09,382.8 v-2.2 M470.05,382.8 v-2.2 M473.58,382.8 v-2.2 M476.31,382.8 v-2.2 M478.54,382.8 v-2.2 M480.43,382.8 v-2.2 M482.07,382.8 v-2.2 M483.51,382.8 v-2.2 M484.8,382.8 v-4 M493.29,382.8 v-2.2 M498.25,382.8 v-2.2 M501.78,382.8 v-2.2 M504.51,382.8 v-2.2 M506.74,382.8 v-2.2 M508.63,382.8 v-2.2 M510.27,382.8 v-2.2 M511.71,382.8 v-2.2" stroke="#000" stroke-width="1.1" fill="none"/>
<text x="328.2" y="399.2" font-family="Liberation Sans, sans-serif" font-size="15" letter-spacing="0.6">10<tspan font-size="10.4" dy="-5.4" letter-spacing="0">9</tspan></text>
<text x="382.9" y="399.2" font-family="Liberation Sans, sans-serif" font-size="15" letter-spacing="0.6">10<tspan font-size="10.4" dy="-5.4" letter-spacing="0">11</tspan></text>
<text x="439.9" y="399.2" font-family="Liberation Sans, sans-serif" font-size="15" letter-spacing="0.6">10<tspan font-size="10.4" dy="-5.4" letter-spacing="0">13</tspan></text>
<text x="496.9" y="399.2" font-family="Liberation Sans, sans-serif" font-size="15" letter-spacing="0.6">10<tspan font-size="10.4" dy="-5.4" letter-spacing="0">15</tspan></text>
<text x="383.3" y="418.6" font-family="Liberation Sans, sans-serif" font-size="15.5" font-weight="bold"><tspan font-style="italic">n</tspan><tspan font-style="italic" font-size="10.5" dy="2.6">ch</tspan><tspan dy="-2.6"> (cm</tspan><tspan font-size="10.5" dy="-6">-2</tspan><tspan dy="6">)</tspan></text>
<text transform="translate(293.6,195) rotate(-90)" font-family="Liberation Sans, sans-serif" font-size="16" font-weight="bold" text-anchor="middle">Voltage</text>
<text x="293.5" y="66.7" font-family="Liberation Sans, sans-serif" font-size="15.8" font-style="italic">V<tspan font-size="10.5" dy="3.5">g</tspan></text>
<text x="301.6" y="371.8" font-family="Liberation Sans, sans-serif" font-size="16" font-style="italic">0</text>
<text x="320.6" y="20.2" font-family="Liberation Sans, sans-serif" font-size="18">(b)</text>
<text x="321" y="48.9" font-family="Liberation Sans, sans-serif" font-size="15.6">SL MoS<tspan font-size="10.2" dy="4.2">2</tspan></text>
<text x="373.6" y="19" font-family="Liberation Sans, sans-serif" font-size="14.4">300 nm SiO<tspan font-size="10" dy="3.5">2</tspan></text>
<text x="445" y="45.8" font-family="Liberation Sans, sans-serif" font-size="14.4">3 nm SiO<tspan font-size="10" dy="3.5">2</tspan></text>
<text x="464.9" y="357.3" font-family="Liberation Sans, sans-serif" font-size="16">300 K</text>
<line x1="395.6" y1="68" x2="395.6" y2="81.3" stroke="#000" stroke-width="1.5"/>
<line x1="395.6" y1="108.5" x2="395.6" y2="184" stroke="#000" stroke-width="1.5"/>
<path d="M395.6,62.6 L391.5,71.4 L395.6,68.4 L399.7,71.4 Z" fill="#000"/>
<path d="M395.7,189.7 L391.6,180.9 L395.7,183.9 L399.8,180.9 Z" fill="#000"/>
<line x1="444.1" y1="68" x2="444.1" y2="148.9" stroke="#000" stroke-width="1.5"/>
<line x1="444.1" y1="179" x2="444.1" y2="246" stroke="#000" stroke-width="1.5"/>
<path d="M444.1,62.6 L440,71.4 L444.1,68.4 L448.2,71.4 Z" fill="#000"/>
<path d="M444.1,251.3 L440,242.5 L444.1,245.5 L448.2,242.5 Z" fill="#000"/>
<line x1="395.5" y1="203" x2="395.5" y2="272.3" stroke="#3a0cff" stroke-width="1.3"/>
<line x1="395.5" y1="302.9" x2="395.5" y2="358" stroke="#3a0cff" stroke-width="1.3"/>
<path d="M395.5,197.5 L391.4,206 L395.5,203 L399.6,206 Z" fill="#3a0cff"/>
<path d="M395.5,363.8 L391.4,355.3 L395.5,358.3 L399.6,355.3 Z" fill="#3a0cff"/>
<line x1="443.8" y1="266" x2="443.8" y2="313.8" stroke="#3a0cff" stroke-width="1.3"/>
<line x1="443.8" y1="343.4" x2="443.8" y2="358" stroke="#3a0cff" stroke-width="1.3"/>
<path d="M443.8,261.1 L439.7,269.6 L443.8,266.6 L447.9,269.6 Z" fill="#3a0cff"/>
<path d="M443.8,364.6 L439.7,356.1 L443.8,359.1 L447.9,356.1 Z" fill="#3a0cff"/>
<path d="M388.2,194.6 H403.2 M438.9,255.3 H448.9" stroke="#d40a0a" stroke-width="1.8"/>
<text x="387.3" y="98.6" font-family="Liberation Sans, sans-serif" font-size="16" font-style="italic">V<tspan font-size="11" dy="4.1">ch</tspan></text>
<text x="433" y="169.9" font-family="Liberation Sans, sans-serif" font-size="16" font-style="italic">V<tspan font-size="11" dy="4">ch</tspan></text>
<text x="387.3" y="294.5" font-family="Liberation Sans, sans-serif" font-size="16" font-style="italic" fill="#3a0cff">V<tspan font-size="11" dy="3.7">ox</tspan></text>
<text x="436" y="332.9" font-family="Liberation Sans, sans-serif" font-size="16" font-style="italic" fill="#3a0cff">V<tspan font-size="11" dy="3.7">ox</tspan></text>
<ellipse cx="423.5" cy="87.9" rx="5" ry="15.6" fill="none" stroke="#d9302c" stroke-width="1.2"/>
<ellipse cx="479.6" cy="92.9" rx="5.4" ry="15.7" fill="none" stroke="#d9302c" stroke-width="1.2"/>
<path d="M423.6,72.3 V31 M479.6,77.2 V57" stroke="#d9302c" stroke-width="1.1"/>
<path d="M423.6,27.1 l-2.4,5.2 l2.4,-1.2 l2.4,1.2 z M479.6,53.1 l-2.4,5.2 l2.4,-1.2 l2.4,1.2 z" fill="#d9302c"/>
</svg></body></html>
